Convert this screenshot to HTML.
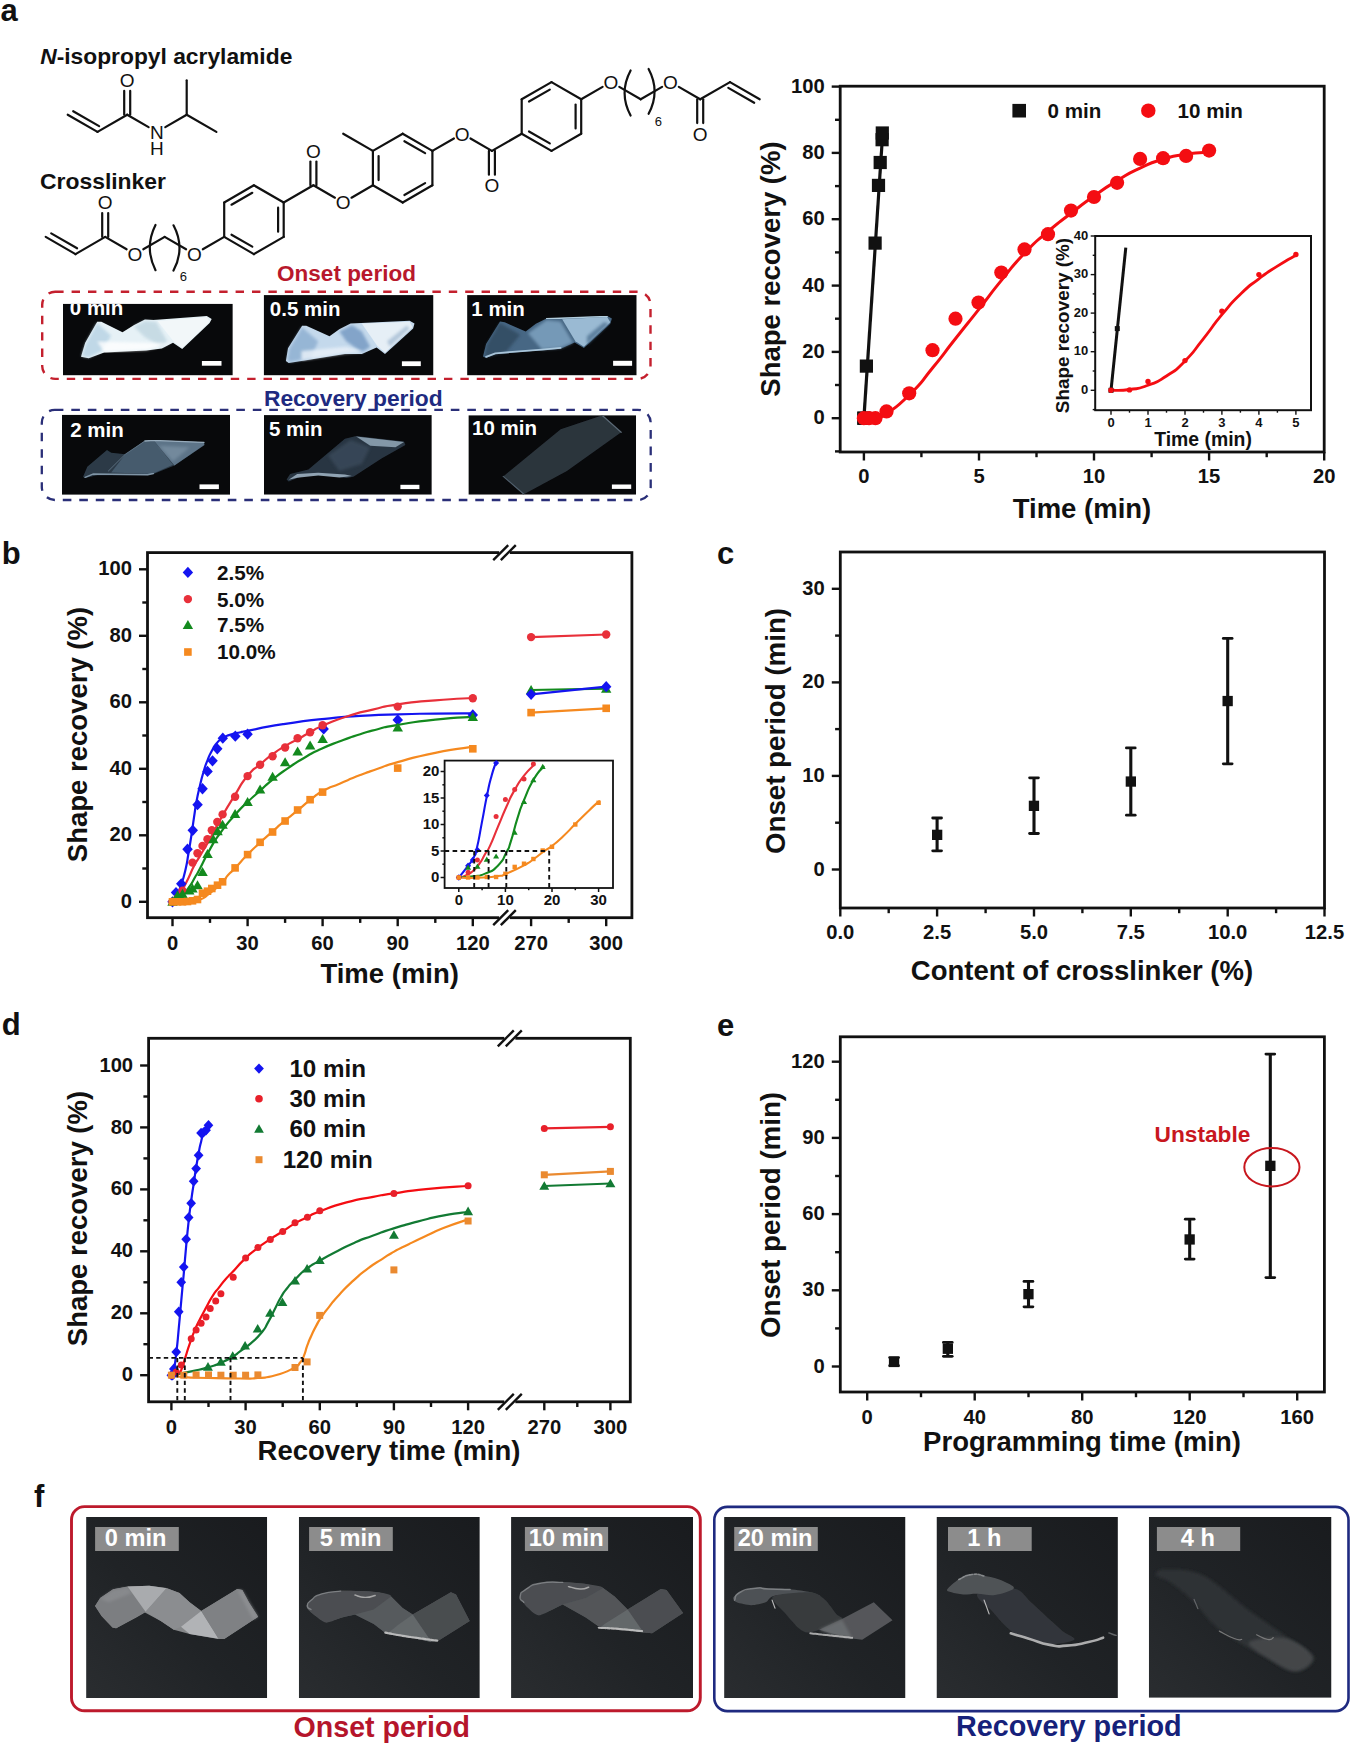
<!DOCTYPE html>
<html lang="en"><head><meta charset="utf-8"><title>Figure</title>
<style>
html,body{margin:0;padding:0;background:#fff;}
body{width:1352px;height:1745px;overflow:hidden;}
svg{display:block;font-family:'Liberation Sans', sans-serif;}
</style></head><body>
<svg width="1352" height="1745" viewBox="0 0 1352 1745">
<rect width="1352" height="1745" fill="#fff"/>
<text x="0.5" y="20.8" font-size="31" text-anchor="start" fill="#111" font-weight="bold">a</text>
<text x="1.7" y="564.3" font-size="31" text-anchor="start" fill="#111" font-weight="bold">b</text>
<text x="717" y="564.3" font-size="31" text-anchor="start" fill="#111" font-weight="bold">c</text>
<text x="1.7" y="1035" font-size="31" text-anchor="start" fill="#111" font-weight="bold">d</text>
<text x="717" y="1035.6" font-size="31" text-anchor="start" fill="#111" font-weight="bold">e</text>
<text x="34" y="1506.6" font-size="31" text-anchor="start" fill="#111" font-weight="bold">f</text>
<rect x="840.2" y="86.2" width="484" height="365.8" fill="none" stroke="#111" stroke-width="2.8"/>
<line x1="831.7" y1="418.2" x2="840.2" y2="418.2" stroke="#111" stroke-width="2.4"/>
<text x="824.7" y="424.2" font-size="20.2" text-anchor="end" fill="#111" font-weight="bold">0</text>
<line x1="831.7" y1="351.9" x2="840.2" y2="351.9" stroke="#111" stroke-width="2.4"/>
<text x="824.7" y="357.9" font-size="20.2" text-anchor="end" fill="#111" font-weight="bold">20</text>
<line x1="831.7" y1="285.6" x2="840.2" y2="285.6" stroke="#111" stroke-width="2.4"/>
<text x="824.7" y="291.6" font-size="20.2" text-anchor="end" fill="#111" font-weight="bold">40</text>
<line x1="831.7" y1="219.2" x2="840.2" y2="219.2" stroke="#111" stroke-width="2.4"/>
<text x="824.7" y="225.3" font-size="20.2" text-anchor="end" fill="#111" font-weight="bold">60</text>
<line x1="831.7" y1="152.9" x2="840.2" y2="152.9" stroke="#111" stroke-width="2.4"/>
<text x="824.7" y="159" font-size="20.2" text-anchor="end" fill="#111" font-weight="bold">80</text>
<line x1="831.7" y1="86.6" x2="840.2" y2="86.6" stroke="#111" stroke-width="2.4"/>
<text x="824.7" y="92.6" font-size="20.2" text-anchor="end" fill="#111" font-weight="bold">100</text>
<line x1="835" y1="451.4" x2="840.2" y2="451.4" stroke="#111" stroke-width="2.4"/>
<line x1="835" y1="385" x2="840.2" y2="385" stroke="#111" stroke-width="2.4"/>
<line x1="835" y1="318.7" x2="840.2" y2="318.7" stroke="#111" stroke-width="2.4"/>
<line x1="835" y1="252.4" x2="840.2" y2="252.4" stroke="#111" stroke-width="2.4"/>
<line x1="835" y1="186.1" x2="840.2" y2="186.1" stroke="#111" stroke-width="2.4"/>
<line x1="835" y1="119.8" x2="840.2" y2="119.8" stroke="#111" stroke-width="2.4"/>
<line x1="863.9" y1="452" x2="863.9" y2="460.5" stroke="#111" stroke-width="2.4"/>
<text x="863.9" y="483" font-size="20.2" text-anchor="middle" fill="#111" font-weight="bold">0</text>
<line x1="979" y1="452" x2="979" y2="460.5" stroke="#111" stroke-width="2.4"/>
<text x="979" y="483" font-size="20.2" text-anchor="middle" fill="#111" font-weight="bold">5</text>
<line x1="1094" y1="452" x2="1094" y2="460.5" stroke="#111" stroke-width="2.4"/>
<text x="1094" y="483" font-size="20.2" text-anchor="middle" fill="#111" font-weight="bold">10</text>
<line x1="1209.1" y1="452" x2="1209.1" y2="460.5" stroke="#111" stroke-width="2.4"/>
<text x="1209.1" y="483" font-size="20.2" text-anchor="middle" fill="#111" font-weight="bold">15</text>
<line x1="1324.2" y1="452" x2="1324.2" y2="460.5" stroke="#111" stroke-width="2.4"/>
<text x="1324.2" y="483" font-size="20.2" text-anchor="middle" fill="#111" font-weight="bold">20</text>
<line x1="921.4" y1="452" x2="921.4" y2="457.2" stroke="#111" stroke-width="2.4"/>
<line x1="1036.5" y1="452" x2="1036.5" y2="457.2" stroke="#111" stroke-width="2.4"/>
<line x1="1151.6" y1="452" x2="1151.6" y2="457.2" stroke="#111" stroke-width="2.4"/>
<line x1="1266.7" y1="452" x2="1266.7" y2="457.2" stroke="#111" stroke-width="2.4"/>
<text x="780" y="269" font-size="27.5" text-anchor="middle" fill="#111" font-weight="bold" transform="rotate(-90 780 269)">Shape recovery (%)</text>
<text x="1082" y="518" font-size="27.5" text-anchor="middle" fill="#111" font-weight="bold">Time (min)</text>
<line x1="863.9" y1="418.2" x2="882.7" y2="133" stroke="#111" stroke-width="3.2"/>
<rect x="857.3" y="411.6" width="13.2" height="13.2" fill="#111"/>
<rect x="859.8" y="359.5" width="13.2" height="13.2" fill="#111"/>
<rect x="868.5" y="236.5" width="13.2" height="13.2" fill="#111"/>
<rect x="871.9" y="178.8" width="13.2" height="13.2" fill="#111"/>
<rect x="873.6" y="155.9" width="13.2" height="13.2" fill="#111"/>
<rect x="875.5" y="133.1" width="13.2" height="13.2" fill="#111"/>
<rect x="875.7" y="126.4" width="13.2" height="13.2" fill="#111"/>
<path d="M863.9 418.2C867.7 418.1 867.7 419.7 875.4 418C883.1 416.4 875.4 421.1 886.9 413.2C898.4 405.3 894.6 409.6 909.9 394.3C925.3 379.1 917.6 386.3 932.9 367.5C948.3 348.7 940.6 357.4 956 338C971.3 318.5 963.6 328.6 979 309.1C994.3 289.6 986.6 298.4 1002 279.6C1017.3 260.8 1009.7 268.8 1025 252.7C1040.3 236.7 1032.7 244.7 1048 231.5C1063.4 218.4 1055.7 225.1 1071 213.3C1086.4 201.4 1078.7 206.9 1094 196C1109.4 185.2 1101.7 190.1 1117.1 180.8C1132.4 171.5 1124.7 175.4 1140.1 168.2C1155.4 161 1147.8 163.9 1163.1 159.2C1178.4 154.6 1170.8 156.6 1186.1 154.2C1201.5 151.9 1201.5 152.9 1209.1 152.3" fill="none" stroke="#f40d12" stroke-width="3" stroke-linecap="round" stroke-linejoin="round"/>
<rect x="857.3" y="411.6" width="13.2" height="13.2" fill="#111"/>
<circle cx="863.9" cy="418.2" r="7.1" fill="#f40d12"/>
<circle cx="875.4" cy="418.2" r="7.1" fill="#f40d12"/>
<circle cx="886.5" cy="411.4" r="7.1" fill="#f40d12"/>
<circle cx="909.2" cy="393.3" r="7.1" fill="#f40d12"/>
<circle cx="932.5" cy="350.2" r="7.1" fill="#f40d12"/>
<circle cx="955.5" cy="318.7" r="7.1" fill="#f40d12"/>
<circle cx="978.5" cy="302.5" r="7.1" fill="#f40d12"/>
<circle cx="1001.3" cy="272.6" r="7.1" fill="#f40d12"/>
<circle cx="1024.5" cy="249.4" r="7.1" fill="#f40d12"/>
<circle cx="1048" cy="234.2" r="7.1" fill="#f40d12"/>
<circle cx="1071" cy="210.6" r="7.1" fill="#f40d12"/>
<circle cx="1094" cy="197" r="7.1" fill="#f40d12"/>
<circle cx="1117.1" cy="182.8" r="7.1" fill="#f40d12"/>
<circle cx="1140.1" cy="158.9" r="7.1" fill="#f40d12"/>
<circle cx="1163.1" cy="158.2" r="7.1" fill="#f40d12"/>
<circle cx="1186.1" cy="155.9" r="7.1" fill="#f40d12"/>
<circle cx="1209.1" cy="150.6" r="7.1" fill="#f40d12"/>
<circle cx="869" cy="418.2" r="7.1" fill="#f40d12"/>
<rect x="1012.4" y="103.9" width="13.6" height="13.6" fill="#111"/>
<text x="1047.5" y="117.6" font-size="20.6" text-anchor="start" fill="#111" font-weight="bold">0 min</text>
<circle cx="1148.3" cy="110.7" r="7.2" fill="#f40d12"/>
<text x="1177.6" y="117.6" font-size="20.6" text-anchor="start" fill="#111" font-weight="bold">10 min</text>
<rect x="1095.2" y="236" width="215.8" height="174.2" fill="#fff" stroke="#111" stroke-width="2"/>
<line x1="1090.7" y1="390.3" x2="1095.2" y2="390.3" stroke="#111" stroke-width="1.4"/>
<text x="1088.2" y="393.8" font-size="13" text-anchor="end" fill="#111" font-weight="bold">0</text>
<line x1="1090.7" y1="351.7" x2="1095.2" y2="351.7" stroke="#111" stroke-width="1.4"/>
<text x="1088.2" y="355.2" font-size="13" text-anchor="end" fill="#111" font-weight="bold">10</text>
<line x1="1090.7" y1="313.1" x2="1095.2" y2="313.1" stroke="#111" stroke-width="1.4"/>
<text x="1088.2" y="316.6" font-size="13" text-anchor="end" fill="#111" font-weight="bold">20</text>
<line x1="1090.7" y1="274.6" x2="1095.2" y2="274.6" stroke="#111" stroke-width="1.4"/>
<text x="1088.2" y="278" font-size="13" text-anchor="end" fill="#111" font-weight="bold">30</text>
<line x1="1090.7" y1="236" x2="1095.2" y2="236" stroke="#111" stroke-width="1.4"/>
<text x="1088.2" y="239.5" font-size="13" text-anchor="end" fill="#111" font-weight="bold">40</text>
<line x1="1092.7" y1="409.6" x2="1095.2" y2="409.6" stroke="#111" stroke-width="1.4"/>
<line x1="1092.7" y1="371" x2="1095.2" y2="371" stroke="#111" stroke-width="1.4"/>
<line x1="1092.7" y1="332.4" x2="1095.2" y2="332.4" stroke="#111" stroke-width="1.4"/>
<line x1="1092.7" y1="293.9" x2="1095.2" y2="293.9" stroke="#111" stroke-width="1.4"/>
<line x1="1092.7" y1="255.3" x2="1095.2" y2="255.3" stroke="#111" stroke-width="1.4"/>
<line x1="1111" y1="410.2" x2="1111" y2="414.7" stroke="#111" stroke-width="1.4"/>
<text x="1111" y="426.8" font-size="13" text-anchor="middle" fill="#111" font-weight="bold">0</text>
<line x1="1148" y1="410.2" x2="1148" y2="414.7" stroke="#111" stroke-width="1.4"/>
<text x="1148" y="426.8" font-size="13" text-anchor="middle" fill="#111" font-weight="bold">1</text>
<line x1="1185" y1="410.2" x2="1185" y2="414.7" stroke="#111" stroke-width="1.4"/>
<text x="1185" y="426.8" font-size="13" text-anchor="middle" fill="#111" font-weight="bold">2</text>
<line x1="1221.9" y1="410.2" x2="1221.9" y2="414.7" stroke="#111" stroke-width="1.4"/>
<text x="1221.9" y="426.8" font-size="13" text-anchor="middle" fill="#111" font-weight="bold">3</text>
<line x1="1258.9" y1="410.2" x2="1258.9" y2="414.7" stroke="#111" stroke-width="1.4"/>
<text x="1258.9" y="426.8" font-size="13" text-anchor="middle" fill="#111" font-weight="bold">4</text>
<line x1="1295.9" y1="410.2" x2="1295.9" y2="414.7" stroke="#111" stroke-width="1.4"/>
<text x="1295.9" y="426.8" font-size="13" text-anchor="middle" fill="#111" font-weight="bold">5</text>
<line x1="1129.5" y1="410.2" x2="1129.5" y2="412.7" stroke="#111" stroke-width="1.4"/>
<line x1="1166.5" y1="410.2" x2="1166.5" y2="412.7" stroke="#111" stroke-width="1.4"/>
<line x1="1203.5" y1="410.2" x2="1203.5" y2="412.7" stroke="#111" stroke-width="1.4"/>
<line x1="1240.4" y1="410.2" x2="1240.4" y2="412.7" stroke="#111" stroke-width="1.4"/>
<line x1="1277.4" y1="410.2" x2="1277.4" y2="412.7" stroke="#111" stroke-width="1.4"/>
<text x="1068.6" y="325.5" font-size="18.9" text-anchor="middle" fill="#111" font-weight="bold" transform="rotate(-90 1068.6 325.5)">Shape recovery (%)</text>
<text x="1203" y="446" font-size="19.4" text-anchor="middle" fill="#111" font-weight="bold">Time (min)</text>
<line x1="1111" y1="390.3" x2="1125.8" y2="247.6" stroke="#111" stroke-width="3"/>
<path d="M1111 390.3C1117.2 390 1117.2 391.2 1129.5 389.5C1141.8 387.9 1135.7 389.8 1148 385.3C1160.3 380.8 1154.1 384.1 1166.5 376C1178.8 367.9 1172.6 373.5 1185 361C1197.3 348.5 1191.1 354 1203.5 338.6C1215.8 323.2 1209.6 329.5 1221.9 314.7C1234.3 299.9 1228.1 306.2 1240.4 294.2C1252.8 282.3 1246.6 288.2 1258.9 278.8C1271.2 269.4 1265.1 273.9 1277.4 266.1C1289.7 258.2 1289.7 258.9 1295.9 255.3" fill="none" stroke="#f40d12" stroke-width="2.8" stroke-linecap="round" stroke-linejoin="round"/>
<rect x="1114.8" y="326.1" width="5" height="5" fill="#111"/>
<rect x="1108.5" y="387.8" width="5" height="5" fill="#111"/>
<circle cx="1111" cy="390.3" r="2.7" fill="#f40d12"/>
<circle cx="1129.5" cy="389.9" r="2.7" fill="#f40d12"/>
<circle cx="1148" cy="381.4" r="2.7" fill="#f40d12"/>
<circle cx="1185" cy="360.6" r="2.7" fill="#f40d12"/>
<circle cx="1221.9" cy="311.2" r="2.7" fill="#f40d12"/>
<circle cx="1258.9" cy="274.6" r="2.7" fill="#f40d12"/>
<circle cx="1295.9" cy="254.5" r="2.7" fill="#f40d12"/>
<rect x="147.5" y="552.6" width="484.4" height="365.1" fill="none" stroke="#111" stroke-width="2.8"/>
<rect x="499.2" y="549.6" width="10.6" height="6" fill="#fff" stroke="none" stroke-width="0"/>
<line x1="493.2" y1="560.1" x2="508.2" y2="545.1" stroke="#111" stroke-width="2.4"/>
<line x1="500.8" y1="560.1" x2="515.8" y2="545.1" stroke="#111" stroke-width="2.4"/>
<rect x="499.2" y="914.7" width="10.6" height="6" fill="#fff" stroke="none" stroke-width="0"/>
<line x1="493.2" y1="925.2" x2="508.2" y2="910.2" stroke="#111" stroke-width="2.4"/>
<line x1="500.8" y1="925.2" x2="515.8" y2="910.2" stroke="#111" stroke-width="2.4"/>
<line x1="139" y1="901.8" x2="147.5" y2="901.8" stroke="#111" stroke-width="2.4"/>
<text x="132" y="907.8" font-size="20.2" text-anchor="end" fill="#111" font-weight="bold">0</text>
<line x1="139" y1="835.3" x2="147.5" y2="835.3" stroke="#111" stroke-width="2.4"/>
<text x="132" y="841.3" font-size="20.2" text-anchor="end" fill="#111" font-weight="bold">20</text>
<line x1="139" y1="768.8" x2="147.5" y2="768.8" stroke="#111" stroke-width="2.4"/>
<text x="132" y="774.8" font-size="20.2" text-anchor="end" fill="#111" font-weight="bold">40</text>
<line x1="139" y1="702.3" x2="147.5" y2="702.3" stroke="#111" stroke-width="2.4"/>
<text x="132" y="708.3" font-size="20.2" text-anchor="end" fill="#111" font-weight="bold">60</text>
<line x1="139" y1="635.8" x2="147.5" y2="635.8" stroke="#111" stroke-width="2.4"/>
<text x="132" y="641.8" font-size="20.2" text-anchor="end" fill="#111" font-weight="bold">80</text>
<line x1="139" y1="569.3" x2="147.5" y2="569.3" stroke="#111" stroke-width="2.4"/>
<text x="132" y="575.3" font-size="20.2" text-anchor="end" fill="#111" font-weight="bold">100</text>
<line x1="142.3" y1="868.5" x2="147.5" y2="868.5" stroke="#111" stroke-width="2.4"/>
<line x1="142.3" y1="802" x2="147.5" y2="802" stroke="#111" stroke-width="2.4"/>
<line x1="142.3" y1="735.5" x2="147.5" y2="735.5" stroke="#111" stroke-width="2.4"/>
<line x1="142.3" y1="669" x2="147.5" y2="669" stroke="#111" stroke-width="2.4"/>
<line x1="142.3" y1="602.5" x2="147.5" y2="602.5" stroke="#111" stroke-width="2.4"/>
<line x1="172.5" y1="917.7" x2="172.5" y2="926.2" stroke="#111" stroke-width="2.4"/>
<text x="172.5" y="950.3" font-size="20.2" text-anchor="middle" fill="#111" font-weight="bold">0</text>
<line x1="247.6" y1="917.7" x2="247.6" y2="926.2" stroke="#111" stroke-width="2.4"/>
<text x="247.6" y="950.3" font-size="20.2" text-anchor="middle" fill="#111" font-weight="bold">30</text>
<line x1="322.6" y1="917.7" x2="322.6" y2="926.2" stroke="#111" stroke-width="2.4"/>
<text x="322.6" y="950.3" font-size="20.2" text-anchor="middle" fill="#111" font-weight="bold">60</text>
<line x1="397.7" y1="917.7" x2="397.7" y2="926.2" stroke="#111" stroke-width="2.4"/>
<text x="397.7" y="950.3" font-size="20.2" text-anchor="middle" fill="#111" font-weight="bold">90</text>
<line x1="472.8" y1="917.7" x2="472.8" y2="926.2" stroke="#111" stroke-width="2.4"/>
<text x="472.8" y="950.3" font-size="20.2" text-anchor="middle" fill="#111" font-weight="bold">120</text>
<line x1="210" y1="917.7" x2="210" y2="922.9" stroke="#111" stroke-width="2.4"/>
<line x1="285.1" y1="917.7" x2="285.1" y2="922.9" stroke="#111" stroke-width="2.4"/>
<line x1="360.2" y1="917.7" x2="360.2" y2="922.9" stroke="#111" stroke-width="2.4"/>
<line x1="435.3" y1="917.7" x2="435.3" y2="922.9" stroke="#111" stroke-width="2.4"/>
<line x1="531.1" y1="917.7" x2="531.1" y2="926.2" stroke="#111" stroke-width="2.4"/>
<text x="531.1" y="950.3" font-size="20.2" text-anchor="middle" fill="#111" font-weight="bold">270</text>
<line x1="606.2" y1="917.7" x2="606.2" y2="926.2" stroke="#111" stroke-width="2.4"/>
<text x="606.2" y="950.3" font-size="20.2" text-anchor="middle" fill="#111" font-weight="bold">300</text>
<line x1="568.7" y1="917.7" x2="568.7" y2="922.9" stroke="#111" stroke-width="2.4"/>
<text x="87" y="734.5" font-size="27.5" text-anchor="middle" fill="#111" font-weight="bold" transform="rotate(-90 87 734.5)">Shape recovery (%)</text>
<text x="389.7" y="983.2" font-size="27.5" text-anchor="middle" fill="#111" font-weight="bold">Time (min)</text>
<path d="M172.5 901.8C173.8 900.1 173.6 901.9 176.3 896.8C179 891.7 177.6 895.3 180.6 886.5C183.6 877.7 182.6 881.6 185.3 870.5C187.9 859.5 186.5 864.8 188.5 853.3C190.5 841.7 189.4 847.9 191.3 836C193.1 824 192.3 828.9 194 817.3C195.8 805.8 194.5 812 196.5 801.4C198.5 790.7 197.8 795 200 785.4C202.3 775.9 200.9 781 203.3 772.8C205.7 764.6 204.4 768.1 207.3 760.8C210.2 753.5 208.8 756.6 211.9 750.8C215 745.1 213 747.7 216.5 743.5C220.1 739.3 218.1 741.1 222.6 738.2C227 735.3 223.8 736.9 229.8 734.9C235.8 732.9 234.3 733.7 240.6 732.2C246.8 730.8 234.4 733.2 248.6 730.6C262.8 727.9 256 728.3 283.1 724.2C310.2 720.1 304.2 721 329.9 718.3C355.6 715.5 337.6 717.3 360.2 715.9C382.8 714.6 372.7 715 397.7 714.3C422.8 713.5 410.2 713.9 435.3 713.6C460.3 713.3 460.3 713.4 472.8 713.3" fill="none" stroke="#1414f0" stroke-width="2.2" stroke-linecap="round" stroke-linejoin="round"/>
<path d="M172.5 901.8C173.8 901 173.6 902.4 176.3 899.5C178.9 896.6 176.4 900.4 180.5 893.2C184.6 886 184 886.9 188.5 877.9C193 868.8 190.2 873.2 194 865.9C197.9 858.6 194.6 865.1 200 855.9C205.4 846.7 203.4 850.7 210.3 838.3C217.2 825.9 212.9 832.6 220.8 818.7C228.7 804.7 225.1 810.7 234.1 796.4C243 782.1 238.9 786.4 247.6 775.8C256.3 765.1 251.8 771.6 260.1 764.5C268.3 757.4 264.1 760.6 272.3 754.5C280.6 748.4 276.2 751.4 284.9 746.2C293.5 741 290 743.5 298.4 738.9C306.8 734.2 301.9 736.7 310.1 732.2C318.4 727.8 310.6 730.9 323.2 725.6C335.7 720.3 331.2 721.6 347.7 716.3C364.2 710.9 356 713.6 372.7 709.6C389.4 705.6 376.9 707.4 397.7 704.3C418.6 701.2 410.2 702.4 435.3 700.3C460.3 698.2 460.3 698.8 472.8 698" fill="none" stroke="#e8303a" stroke-width="2.2" stroke-linecap="round" stroke-linejoin="round"/>
<path d="M172.5 901.8C174.2 901.1 173.9 902.2 177.5 899.8C181.1 897.4 179.1 899.1 183.3 894.5C187.4 889.8 186.1 891.6 190 885.8C193.9 880.1 191.7 883 195 877.2C198.4 871.4 194.9 878.1 200 868.5C205.1 859 203.4 860.7 210.3 848.6C217.2 836.5 212.5 843.6 220.8 832.3C229.1 821 226.3 824.8 235.2 814.7C244.1 804.6 239.3 810 247.6 802C255.9 794.1 251.8 798.2 260.1 790.7C268.3 783.3 263 787.3 272.3 779.8C281.7 772.2 277.7 775.3 288.1 768.1C298.5 760.9 293.3 764.3 303.6 758.2C314 752.1 307.1 755.5 319.1 749.8C331.2 744.2 326.2 746.4 339.9 741.2C353.6 736 347.6 738.2 360.2 734.2C372.8 730.2 365.2 732.3 377.7 729.2C390.2 726.1 378.5 728.1 397.7 724.9C416.9 721.7 410.2 722.2 435.3 719.6C460.3 716.9 460.3 717.8 472.8 716.9" fill="none" stroke="#138a1e" stroke-width="2.2" stroke-linecap="round" stroke-linejoin="round"/>
<path d="M172.5 901.8C176.7 901.8 176.7 902.2 185 901.8C193.4 901.4 189.2 903.4 197.5 900.5C205.9 897.6 201.7 899.4 210 893.2C218.4 886.9 216.5 887.9 222.6 881.8C228.6 875.8 223.8 879.7 228.1 875C232.3 870.4 228.7 874.7 235.2 867.9C241.7 861.1 239.3 863 247.6 854.6C255.9 846.2 251.8 850.3 260.1 842.6C268.3 835 264.1 839 272.3 831.6C280.6 824.3 276.4 827.8 284.9 820.7C293.3 813.6 288.9 817.5 297.6 810.4C306.3 803.3 302.3 805.9 310.9 799.4C319.5 792.9 313.6 796.1 323.4 790.7C333.2 785.4 327.9 788.6 340.2 783.4C352.4 778.2 347.7 780 360.2 775.1C372.7 770.2 365.2 773.1 377.7 768.8C390.2 764.5 378.5 767.5 397.7 762.1C416.9 756.8 410.2 757.9 435.3 752.8C460.3 747.7 460.3 748.8 472.8 746.9" fill="none" stroke="#f5891f" stroke-width="2.2" stroke-linecap="round" stroke-linejoin="round"/>
<path d="M172.5 896.2L177.7 901.8L172.5 907.4L167.3 901.8Z" fill="#1414f0"/>
<path d="M176 886.9L181.2 892.5L176 898.1L170.8 892.5Z" fill="#1414f0"/>
<path d="M181.3 878.2L186.5 883.8L181.3 889.5L176 883.8Z" fill="#1414f0"/>
<path d="M187.5 843.6L192.8 849.3L187.5 854.9L182.3 849.3Z" fill="#1414f0"/>
<path d="M192.8 824.7L198 830.3L192.8 835.9L187.5 830.3Z" fill="#1414f0"/>
<path d="M197.5 799.1L202.8 804.7L197.5 810.3L192.3 804.7Z" fill="#1414f0"/>
<path d="M202.5 783.1L207.8 788.8L202.5 794.4L197.3 788.8Z" fill="#1414f0"/>
<path d="M207.5 765.8L212.8 771.5L207.5 777.1L202.3 771.5Z" fill="#1414f0"/>
<path d="M212.5 755.2L217.8 760.8L212.5 766.4L207.3 760.8Z" fill="#1414f0"/>
<path d="M217.3 743.2L222.5 748.8L217.3 754.5L212.1 748.8Z" fill="#1414f0"/>
<path d="M222.8 732.6L228 738.2L222.8 743.8L217.6 738.2Z" fill="#1414f0"/>
<path d="M235.3 730.6L240.6 736.2L235.3 741.8L230.1 736.2Z" fill="#1414f0"/>
<path d="M247.6 728.6L252.8 734.2L247.6 739.8L242.3 734.2Z" fill="#1414f0"/>
<path d="M323.7 723.3L328.9 728.9L323.7 734.5L318.4 728.9Z" fill="#1414f0"/>
<path d="M397.7 714.3L403 719.9L397.7 725.5L392.5 719.9Z" fill="#1414f0"/>
<path d="M472.8 709.3L478 714.9L472.8 720.6L467.6 714.9Z" fill="#1414f0"/>
<circle cx="172.5" cy="901.8" r="4.2" fill="#e8303a"/>
<circle cx="177.5" cy="898.5" r="4.2" fill="#e8303a"/>
<circle cx="182.5" cy="890.8" r="4.2" fill="#e8303a"/>
<circle cx="192.5" cy="862.6" r="4.2" fill="#e8303a"/>
<circle cx="197.5" cy="853.3" r="4.2" fill="#e8303a"/>
<circle cx="202.5" cy="845.9" r="4.2" fill="#e8303a"/>
<circle cx="207.5" cy="839.3" r="4.2" fill="#e8303a"/>
<circle cx="211.8" cy="830.3" r="4.2" fill="#e8303a"/>
<circle cx="217.3" cy="822" r="4.2" fill="#e8303a"/>
<circle cx="222.6" cy="814.4" r="4.2" fill="#e8303a"/>
<circle cx="235.1" cy="796.7" r="4.2" fill="#e8303a"/>
<circle cx="247.6" cy="776.1" r="4.2" fill="#e8303a"/>
<circle cx="260.1" cy="764.8" r="4.2" fill="#e8303a"/>
<circle cx="272.6" cy="756.2" r="4.2" fill="#e8303a"/>
<circle cx="285.1" cy="747.5" r="4.2" fill="#e8303a"/>
<circle cx="297.6" cy="738.2" r="4.2" fill="#e8303a"/>
<circle cx="310.1" cy="732.2" r="4.2" fill="#e8303a"/>
<circle cx="322.6" cy="725.2" r="4.2" fill="#e8303a"/>
<circle cx="397.7" cy="706.6" r="4.2" fill="#e8303a"/>
<circle cx="472.8" cy="698.3" r="4.2" fill="#e8303a"/>
<path d="M172.5 896.8L177.7 905.8L167.3 905.8Z" fill="#138a1e"/>
<path d="M177.5 890.5L182.7 899.5L172.3 899.5Z" fill="#138a1e"/>
<path d="M182.5 888.8L187.7 897.9L177.3 897.9Z" fill="#138a1e"/>
<path d="M189.3 885.5L194.5 894.5L184 894.5Z" fill="#138a1e"/>
<path d="M192.5 883.5L197.7 892.5L187.3 892.5Z" fill="#138a1e"/>
<path d="M197.5 880.2L202.8 889.2L192.3 889.2Z" fill="#138a1e"/>
<path d="M202.5 866.9L207.8 875.9L197.3 875.9Z" fill="#138a1e"/>
<path d="M207.5 848.9L212.8 858L202.3 858Z" fill="#138a1e"/>
<path d="M213.3 834.3L218.5 843.3L208.1 843.3Z" fill="#138a1e"/>
<path d="M217.5 826.3L222.8 835.3L212.3 835.3Z" fill="#138a1e"/>
<path d="M222.6 819.7L227.8 828.7L217.3 828.7Z" fill="#138a1e"/>
<path d="M235.1 809L240.3 818.1L229.8 818.1Z" fill="#138a1e"/>
<path d="M247.6 797.1L252.8 806.1L242.3 806.1Z" fill="#138a1e"/>
<path d="M260.1 784.4L265.3 793.5L254.9 793.5Z" fill="#138a1e"/>
<path d="M272.6 771.8L277.8 780.8L267.4 780.8Z" fill="#138a1e"/>
<path d="M285.1 757.2L290.3 766.2L279.9 766.2Z" fill="#138a1e"/>
<path d="M297.6 746.5L302.9 755.5L292.4 755.5Z" fill="#138a1e"/>
<path d="M310.1 740.5L315.4 749.6L304.9 749.6Z" fill="#138a1e"/>
<path d="M322.6 733.9L327.9 742.9L317.4 742.9Z" fill="#138a1e"/>
<path d="M397.7 722.6L403 731.6L392.5 731.6Z" fill="#138a1e"/>
<path d="M472.8 711.9L478 721L467.6 721Z" fill="#138a1e"/>
<rect x="168.7" y="898" width="7.6" height="7.6" fill="#f5891f"/>
<rect x="173.7" y="898" width="7.6" height="7.6" fill="#f5891f"/>
<rect x="178.7" y="898" width="7.6" height="7.6" fill="#f5891f"/>
<rect x="183.7" y="897.7" width="7.6" height="7.6" fill="#f5891f"/>
<rect x="188.7" y="897" width="7.6" height="7.6" fill="#f5891f"/>
<rect x="193.7" y="895.7" width="7.6" height="7.6" fill="#f5891f"/>
<rect x="198.7" y="889.4" width="7.6" height="7.6" fill="#f5891f"/>
<rect x="203.7" y="887.4" width="7.6" height="7.6" fill="#f5891f"/>
<rect x="208" y="884.7" width="7.6" height="7.6" fill="#f5891f"/>
<rect x="213.7" y="881.4" width="7.6" height="7.6" fill="#f5891f"/>
<rect x="218.8" y="878" width="7.6" height="7.6" fill="#f5891f"/>
<rect x="231.3" y="864.1" width="7.6" height="7.6" fill="#f5891f"/>
<rect x="243.8" y="850.8" width="7.6" height="7.6" fill="#f5891f"/>
<rect x="256.3" y="838.5" width="7.6" height="7.6" fill="#f5891f"/>
<rect x="268.8" y="828.2" width="7.6" height="7.6" fill="#f5891f"/>
<rect x="281.3" y="817.2" width="7.6" height="7.6" fill="#f5891f"/>
<rect x="293.8" y="806.2" width="7.6" height="7.6" fill="#f5891f"/>
<rect x="306.3" y="795.9" width="7.6" height="7.6" fill="#f5891f"/>
<rect x="318.8" y="788.3" width="7.6" height="7.6" fill="#f5891f"/>
<rect x="393.9" y="764.3" width="7.6" height="7.6" fill="#f5891f"/>
<rect x="469" y="745" width="7.6" height="7.6" fill="#f5891f"/>
<line x1="531.1" y1="637.1" x2="606.2" y2="634.5" stroke="#e8303a" stroke-width="2.2"/>
<circle cx="531.1" cy="637.1" r="4.2" fill="#e8303a"/>
<circle cx="606.2" cy="634.5" r="4.2" fill="#e8303a"/>
<line x1="531.1" y1="690" x2="606.2" y2="688.7" stroke="#138a1e" stroke-width="2.2"/>
<path d="M531.1 685L536.3 694L525.9 694Z" fill="#138a1e"/>
<path d="M606.2 683.7L611.4 692.7L601 692.7Z" fill="#138a1e"/>
<line x1="531.1" y1="694.3" x2="606.2" y2="686.7" stroke="#1414f0" stroke-width="2.2"/>
<path d="M531.1 688.7L536.3 694.3L531.1 699.9L525.9 694.3Z" fill="#1414f0"/>
<path d="M606.2 681L611.4 686.7L606.2 692.3L601 686.7Z" fill="#1414f0"/>
<line x1="531.1" y1="712.6" x2="606.2" y2="708.3" stroke="#f5891f" stroke-width="2.2"/>
<rect x="527.3" y="708.8" width="7.6" height="7.6" fill="#f5891f"/>
<rect x="602.4" y="704.5" width="7.6" height="7.6" fill="#f5891f"/>
<path d="M187.9 566.8L193.1 572.4L187.9 578L182.7 572.4Z" fill="#1414f0"/>
<text x="217" y="579.8" font-size="20.7" text-anchor="start" fill="#111" font-weight="bold">2.5%</text>
<circle cx="187.9" cy="599.1" r="4.2" fill="#e8303a"/>
<text x="217" y="606.5" font-size="20.7" text-anchor="start" fill="#111" font-weight="bold">5.0%</text>
<path d="M187.9 619.9L193.1 628.9L182.7 628.9Z" fill="#138a1e"/>
<text x="217" y="632.3" font-size="20.7" text-anchor="start" fill="#111" font-weight="bold">7.5%</text>
<rect x="184.1" y="648.2" width="7.6" height="7.6" fill="#f5891f"/>
<text x="217" y="659.4" font-size="20.7" text-anchor="start" fill="#111" font-weight="bold">10.0%</text>
<rect x="444.6" y="760.6" width="168.4" height="127.4" fill="#fff" stroke="#111" stroke-width="1.8"/>
<line x1="440.6" y1="877.5" x2="444.6" y2="877.5" stroke="#111" stroke-width="1.5"/>
<text x="439.4" y="882.1" font-size="15" text-anchor="end" fill="#111" font-weight="bold">0</text>
<line x1="440.6" y1="851" x2="444.6" y2="851" stroke="#111" stroke-width="1.5"/>
<text x="439.4" y="855.6" font-size="15" text-anchor="end" fill="#111" font-weight="bold">5</text>
<line x1="440.6" y1="824.5" x2="444.6" y2="824.5" stroke="#111" stroke-width="1.5"/>
<text x="439.4" y="829.1" font-size="15" text-anchor="end" fill="#111" font-weight="bold">10</text>
<line x1="440.6" y1="798" x2="444.6" y2="798" stroke="#111" stroke-width="1.5"/>
<text x="439.4" y="802.6" font-size="15" text-anchor="end" fill="#111" font-weight="bold">15</text>
<line x1="440.6" y1="771.5" x2="444.6" y2="771.5" stroke="#111" stroke-width="1.5"/>
<text x="439.4" y="776.1" font-size="15" text-anchor="end" fill="#111" font-weight="bold">20</text>
<line x1="442.4" y1="864.2" x2="444.6" y2="864.2" stroke="#111" stroke-width="1.5"/>
<line x1="442.4" y1="837.8" x2="444.6" y2="837.8" stroke="#111" stroke-width="1.5"/>
<line x1="442.4" y1="811.2" x2="444.6" y2="811.2" stroke="#111" stroke-width="1.5"/>
<line x1="442.4" y1="784.8" x2="444.6" y2="784.8" stroke="#111" stroke-width="1.5"/>
<line x1="458.8" y1="888" x2="458.8" y2="892" stroke="#111" stroke-width="1.5"/>
<text x="458.8" y="904.5" font-size="15" text-anchor="middle" fill="#111" font-weight="bold">0</text>
<line x1="505.4" y1="888" x2="505.4" y2="892" stroke="#111" stroke-width="1.5"/>
<text x="505.4" y="904.5" font-size="15" text-anchor="middle" fill="#111" font-weight="bold">10</text>
<line x1="552" y1="888" x2="552" y2="892" stroke="#111" stroke-width="1.5"/>
<text x="552" y="904.5" font-size="15" text-anchor="middle" fill="#111" font-weight="bold">20</text>
<line x1="598.6" y1="888" x2="598.6" y2="892" stroke="#111" stroke-width="1.5"/>
<text x="598.6" y="904.5" font-size="15" text-anchor="middle" fill="#111" font-weight="bold">30</text>
<line x1="482.1" y1="888" x2="482.1" y2="890.2" stroke="#111" stroke-width="1.5"/>
<line x1="528.7" y1="888" x2="528.7" y2="890.2" stroke="#111" stroke-width="1.5"/>
<line x1="575.3" y1="888" x2="575.3" y2="890.2" stroke="#111" stroke-width="1.5"/>
<clipPath id="cj"><rect x="444.6" y="760.6" width="168.4" height="127.4"/></clipPath><g clip-path="url(#cj)">
<path d="M458.8 877.5C461.6 874 462.2 873.6 467.2 866.9C472.2 860.2 470.4 863.8 473.7 857.4C477 850.9 474.3 859 477 847.6C479.7 836.1 478.6 839.8 481.8 822.9C485.1 806 483.5 812.7 486.7 796.9C490 781.2 488.3 787.7 491.6 775.7C494.9 763.8 494.9 766 496.5 761.2" fill="none" stroke="#1414f0" stroke-width="2.1" stroke-linecap="round" stroke-linejoin="round"/>
<path d="M458.8 877.5C461.1 876.8 460.8 877.8 465.8 875.4C470.8 873 469.1 874.4 473.7 870.3C478.4 866.2 476 868.6 479.8 863.2C483.6 857.8 481.7 859.8 485.1 854C488.5 848.3 485.6 855.1 490 845.9C494.3 836.7 492.7 839.3 498.1 826.4C503.6 813.4 501 818.9 506.3 807C511.7 795.1 508.4 801 514.3 790.6C520.2 780.2 517.5 784.2 524 775.7C530.6 767.3 530.6 768.7 533.8 765.1" fill="none" stroke="#e8303a" stroke-width="2.1" stroke-linecap="round" stroke-linejoin="round"/>
<path d="M458.8 877.5C463.5 877.1 464 877.5 472.8 876.2C481.5 874.9 476.6 877.2 485.1 873.6C493.5 870 491 872.5 498.1 865.4C505.2 858.4 502 860.6 506.3 852.4C510.6 844.3 507.3 852.4 511 840.9C514.7 829.5 513.2 831.7 517.5 818.1C521.9 804.5 518.6 813.1 524 800.1C529.5 787.1 527.3 790.3 533.8 779.2C540.4 768.1 540.4 770.9 543.6 766.7" fill="none" stroke="#138a1e" stroke-width="2.1" stroke-linecap="round" stroke-linejoin="round"/>
<path d="M458.8 877.5C465 877.6 464.3 878.3 477.4 877.8C490.6 877.3 488.5 877.4 498.1 876C507.8 874.6 497.7 877.1 506.3 873.6C515 870 514.9 870.3 524 865.4C533.2 860.5 527.3 863.6 533.8 859C540.4 854.3 537.6 855.9 543.6 851.5C549.7 847.2 545.5 851 552 845.9C558.5 840.8 555.1 843.8 563.2 836.2C571.3 828.6 567.5 831.8 576.2 823.1C584.9 814.5 581.7 817.5 589.3 810.2C596.9 802.9 595.8 804.2 599.1 801.2" fill="none" stroke="#f5891f" stroke-width="2.1" stroke-linecap="round" stroke-linejoin="round"/>
<path d="M458.8 874.3L461.8 877.5L458.8 880.7L455.8 877.5Z" fill="#1414f0"/>
<path d="M468.1 862.6L471.1 865.8L468.1 869L465.1 865.8Z" fill="#1414f0"/>
<path d="M472.8 856.8L475.8 860L472.8 863.2L469.8 860Z" fill="#1414f0"/>
<path d="M477.4 846.8L480.4 849.9L477.4 853.1L474.5 849.9Z" fill="#1414f0"/>
<path d="M486.8 792.2L489.7 795.4L486.8 798.5L483.8 795.4Z" fill="#1414f0"/>
<path d="M496.1 759.8L499.1 763L496.1 766.2L493.1 763Z" fill="#1414f0"/>
<circle cx="458.8" cy="877.5" r="2.5" fill="#e8303a"/>
<circle cx="468.1" cy="872.2" r="2.5" fill="#e8303a"/>
<circle cx="477.4" cy="860" r="2.5" fill="#e8303a"/>
<circle cx="496.1" cy="816.5" r="2.5" fill="#e8303a"/>
<circle cx="505.4" cy="799.6" r="2.5" fill="#e8303a"/>
<circle cx="514.7" cy="789.5" r="2.5" fill="#e8303a"/>
<circle cx="524" cy="778.9" r="2.5" fill="#e8303a"/>
<circle cx="533.4" cy="764.1" r="2.5" fill="#e8303a"/>
<path d="M468.1 864.5L471.1 869.8L465.1 869.8Z" fill="#138a1e"/>
<path d="M477.4 863.5L480.5 868.7L474.4 868.7Z" fill="#138a1e"/>
<path d="M486.8 856.6L489.8 861.8L483.7 861.8Z" fill="#138a1e"/>
<path d="M496.1 853.4L499.1 858.6L493.1 858.6Z" fill="#138a1e"/>
<path d="M514.7 829.6L517.7 834.8L511.7 834.8Z" fill="#138a1e"/>
<path d="M524 798.8L527.1 804L521 804Z" fill="#138a1e"/>
<path d="M533.4 777.1L536.4 782.3L530.3 782.3Z" fill="#138a1e"/>
<path d="M542.7 763.8L545.7 769.1L539.7 769.1Z" fill="#138a1e"/>
<rect x="456.6" y="875.3" width="4.4" height="4.4" fill="#f5891f"/>
<rect x="465.9" y="875.3" width="4.4" height="4.4" fill="#f5891f"/>
<rect x="475.2" y="875.3" width="4.4" height="4.4" fill="#f5891f"/>
<rect x="484.6" y="874.8" width="4.4" height="4.4" fill="#f5891f"/>
<rect x="493.9" y="874.8" width="4.4" height="4.4" fill="#f5891f"/>
<rect x="503.2" y="871.6" width="4.4" height="4.4" fill="#f5891f"/>
<rect x="512.5" y="864.7" width="4.4" height="4.4" fill="#f5891f"/>
<rect x="521.8" y="861.5" width="4.4" height="4.4" fill="#f5891f"/>
<rect x="531.2" y="856.8" width="4.4" height="4.4" fill="#f5891f"/>
<rect x="540.5" y="848.3" width="4.4" height="4.4" fill="#f5891f"/>
<rect x="549.8" y="844.6" width="4.4" height="4.4" fill="#f5891f"/>
<rect x="573.1" y="822.3" width="4.4" height="4.4" fill="#f5891f"/>
<rect x="596.4" y="800.6" width="4.4" height="4.4" fill="#f5891f"/>
</g>
<line x1="444.6" y1="851" x2="549.2" y2="851" stroke="#111" stroke-width="1.9" stroke-dasharray="4.6 3.4"/>
<line x1="474.2" y1="851" x2="474.2" y2="888" stroke="#111" stroke-width="1.9" stroke-dasharray="4.6 3.4"/>
<line x1="488.6" y1="851" x2="488.6" y2="888" stroke="#111" stroke-width="1.9" stroke-dasharray="4.6 3.4"/>
<line x1="506.3" y1="851" x2="506.3" y2="888" stroke="#111" stroke-width="1.9" stroke-dasharray="4.6 3.4"/>
<line x1="549.2" y1="851" x2="549.2" y2="888" stroke="#111" stroke-width="1.9" stroke-dasharray="4.6 3.4"/>
<rect x="840.3" y="552" width="484.2" height="356" fill="none" stroke="#111" stroke-width="2.8"/>
<line x1="831.8" y1="869.5" x2="840.3" y2="869.5" stroke="#111" stroke-width="2.4"/>
<text x="824.8" y="875.5" font-size="20.2" text-anchor="end" fill="#111" font-weight="bold">0</text>
<line x1="831.8" y1="775.9" x2="840.3" y2="775.9" stroke="#111" stroke-width="2.4"/>
<text x="824.8" y="782" font-size="20.2" text-anchor="end" fill="#111" font-weight="bold">10</text>
<line x1="831.8" y1="682.4" x2="840.3" y2="682.4" stroke="#111" stroke-width="2.4"/>
<text x="824.8" y="688.4" font-size="20.2" text-anchor="end" fill="#111" font-weight="bold">20</text>
<line x1="831.8" y1="588.8" x2="840.3" y2="588.8" stroke="#111" stroke-width="2.4"/>
<text x="824.8" y="594.8" font-size="20.2" text-anchor="end" fill="#111" font-weight="bold">30</text>
<line x1="835.1" y1="822.7" x2="840.3" y2="822.7" stroke="#111" stroke-width="2.4"/>
<line x1="835.1" y1="729.1" x2="840.3" y2="729.1" stroke="#111" stroke-width="2.4"/>
<line x1="835.1" y1="635.6" x2="840.3" y2="635.6" stroke="#111" stroke-width="2.4"/>
<line x1="840.3" y1="908" x2="840.3" y2="916.5" stroke="#111" stroke-width="2.4"/>
<text x="840.3" y="939" font-size="20.2" text-anchor="middle" fill="#111" font-weight="bold">0.0</text>
<line x1="937.1" y1="908" x2="937.1" y2="916.5" stroke="#111" stroke-width="2.4"/>
<text x="937.1" y="939" font-size="20.2" text-anchor="middle" fill="#111" font-weight="bold">2.5</text>
<line x1="1034" y1="908" x2="1034" y2="916.5" stroke="#111" stroke-width="2.4"/>
<text x="1034" y="939" font-size="20.2" text-anchor="middle" fill="#111" font-weight="bold">5.0</text>
<line x1="1130.8" y1="908" x2="1130.8" y2="916.5" stroke="#111" stroke-width="2.4"/>
<text x="1130.8" y="939" font-size="20.2" text-anchor="middle" fill="#111" font-weight="bold">7.5</text>
<line x1="1227.7" y1="908" x2="1227.7" y2="916.5" stroke="#111" stroke-width="2.4"/>
<text x="1227.7" y="939" font-size="20.2" text-anchor="middle" fill="#111" font-weight="bold">10.0</text>
<line x1="1324.5" y1="908" x2="1324.5" y2="916.5" stroke="#111" stroke-width="2.4"/>
<text x="1324.5" y="939" font-size="20.2" text-anchor="middle" fill="#111" font-weight="bold">12.5</text>
<line x1="888.7" y1="908" x2="888.7" y2="913.2" stroke="#111" stroke-width="2.4"/>
<line x1="985.6" y1="908" x2="985.6" y2="913.2" stroke="#111" stroke-width="2.4"/>
<line x1="1082.4" y1="908" x2="1082.4" y2="913.2" stroke="#111" stroke-width="2.4"/>
<line x1="1179.2" y1="908" x2="1179.2" y2="913.2" stroke="#111" stroke-width="2.4"/>
<line x1="1276.1" y1="908" x2="1276.1" y2="913.2" stroke="#111" stroke-width="2.4"/>
<text x="784.5" y="731" font-size="27.7" text-anchor="middle" fill="#111" font-weight="bold" transform="rotate(-90 784.5 731)">Onset period (min)</text>
<text x="1082" y="980" font-size="27.5" text-anchor="middle" fill="#111" font-weight="bold">Content of crosslinker (%)</text>
<line x1="937.1" y1="850.8" x2="937.1" y2="818" stroke="#111" stroke-width="3.1"/>
<line x1="932.7" y1="850.8" x2="941.5" y2="850.8" stroke="#111" stroke-width="2.8000000000000003" stroke-linecap="round"/>
<line x1="932.7" y1="818" x2="941.5" y2="818" stroke="#111" stroke-width="2.8000000000000003" stroke-linecap="round"/>
<rect x="932" y="829.7" width="10.3" height="10.3" fill="#111"/>
<line x1="1034" y1="833.5" x2="1034" y2="777.8" stroke="#111" stroke-width="3.1"/>
<line x1="1029.6" y1="833.5" x2="1038.4" y2="833.5" stroke="#111" stroke-width="2.8000000000000003" stroke-linecap="round"/>
<line x1="1029.6" y1="777.8" x2="1038.4" y2="777.8" stroke="#111" stroke-width="2.8000000000000003" stroke-linecap="round"/>
<rect x="1028.8" y="800.7" width="10.3" height="10.3" fill="#111"/>
<line x1="1130.8" y1="815.2" x2="1130.8" y2="747.9" stroke="#111" stroke-width="3.1"/>
<line x1="1126.4" y1="815.2" x2="1135.2" y2="815.2" stroke="#111" stroke-width="2.8000000000000003" stroke-linecap="round"/>
<line x1="1126.4" y1="747.9" x2="1135.2" y2="747.9" stroke="#111" stroke-width="2.8000000000000003" stroke-linecap="round"/>
<rect x="1125.7" y="776.4" width="10.3" height="10.3" fill="#111"/>
<line x1="1227.7" y1="763.8" x2="1227.7" y2="638.4" stroke="#111" stroke-width="3.1"/>
<line x1="1223.3" y1="763.8" x2="1232.1" y2="763.8" stroke="#111" stroke-width="2.8000000000000003" stroke-linecap="round"/>
<line x1="1223.3" y1="638.4" x2="1232.1" y2="638.4" stroke="#111" stroke-width="2.8000000000000003" stroke-linecap="round"/>
<rect x="1222.5" y="695.9" width="10.3" height="10.3" fill="#111"/>
<rect x="148.6" y="1038.3" width="481.7" height="363.5" fill="none" stroke="#111" stroke-width="2.8"/>
<rect x="504.3" y="1035.3" width="11" height="6" fill="#fff" stroke="none" stroke-width="0"/>
<line x1="497.8" y1="1046.3" x2="513.8" y2="1030.3" stroke="#111" stroke-width="2.4"/>
<line x1="505.8" y1="1046.3" x2="521.8" y2="1030.3" stroke="#111" stroke-width="2.4"/>
<rect x="504.3" y="1398.8" width="11" height="6" fill="#fff" stroke="none" stroke-width="0"/>
<line x1="497.8" y1="1409.8" x2="513.8" y2="1393.8" stroke="#111" stroke-width="2.4"/>
<line x1="505.8" y1="1409.8" x2="521.8" y2="1393.8" stroke="#111" stroke-width="2.4"/>
<line x1="140.1" y1="1375.2" x2="148.6" y2="1375.2" stroke="#111" stroke-width="2.4"/>
<text x="133.1" y="1381.2" font-size="20.2" text-anchor="end" fill="#111" font-weight="bold">0</text>
<line x1="140.1" y1="1313.3" x2="148.6" y2="1313.3" stroke="#111" stroke-width="2.4"/>
<text x="133.1" y="1319.3" font-size="20.2" text-anchor="end" fill="#111" font-weight="bold">20</text>
<line x1="140.1" y1="1251.3" x2="148.6" y2="1251.3" stroke="#111" stroke-width="2.4"/>
<text x="133.1" y="1257.4" font-size="20.2" text-anchor="end" fill="#111" font-weight="bold">40</text>
<line x1="140.1" y1="1189.4" x2="148.6" y2="1189.4" stroke="#111" stroke-width="2.4"/>
<text x="133.1" y="1195.4" font-size="20.2" text-anchor="end" fill="#111" font-weight="bold">60</text>
<line x1="140.1" y1="1127.4" x2="148.6" y2="1127.4" stroke="#111" stroke-width="2.4"/>
<text x="133.1" y="1133.5" font-size="20.2" text-anchor="end" fill="#111" font-weight="bold">80</text>
<line x1="140.1" y1="1065.5" x2="148.6" y2="1065.5" stroke="#111" stroke-width="2.4"/>
<text x="133.1" y="1071.5" font-size="20.2" text-anchor="end" fill="#111" font-weight="bold">100</text>
<line x1="143.4" y1="1344.2" x2="148.6" y2="1344.2" stroke="#111" stroke-width="2.4"/>
<line x1="143.4" y1="1282.3" x2="148.6" y2="1282.3" stroke="#111" stroke-width="2.4"/>
<line x1="143.4" y1="1220.3" x2="148.6" y2="1220.3" stroke="#111" stroke-width="2.4"/>
<line x1="143.4" y1="1158.4" x2="148.6" y2="1158.4" stroke="#111" stroke-width="2.4"/>
<line x1="143.4" y1="1096.5" x2="148.6" y2="1096.5" stroke="#111" stroke-width="2.4"/>
<line x1="171.4" y1="1401.8" x2="171.4" y2="1410.3" stroke="#111" stroke-width="2.4"/>
<text x="171.4" y="1433.7" font-size="20.2" text-anchor="middle" fill="#111" font-weight="bold">0</text>
<line x1="245.6" y1="1401.8" x2="245.6" y2="1410.3" stroke="#111" stroke-width="2.4"/>
<text x="245.6" y="1433.7" font-size="20.2" text-anchor="middle" fill="#111" font-weight="bold">30</text>
<line x1="319.8" y1="1401.8" x2="319.8" y2="1410.3" stroke="#111" stroke-width="2.4"/>
<text x="319.8" y="1433.7" font-size="20.2" text-anchor="middle" fill="#111" font-weight="bold">60</text>
<line x1="393.9" y1="1401.8" x2="393.9" y2="1410.3" stroke="#111" stroke-width="2.4"/>
<text x="393.9" y="1433.7" font-size="20.2" text-anchor="middle" fill="#111" font-weight="bold">90</text>
<line x1="468.1" y1="1401.8" x2="468.1" y2="1410.3" stroke="#111" stroke-width="2.4"/>
<text x="468.1" y="1433.7" font-size="20.2" text-anchor="middle" fill="#111" font-weight="bold">120</text>
<line x1="208.5" y1="1401.8" x2="208.5" y2="1407" stroke="#111" stroke-width="2.4"/>
<line x1="282.7" y1="1401.8" x2="282.7" y2="1407" stroke="#111" stroke-width="2.4"/>
<line x1="356.8" y1="1401.8" x2="356.8" y2="1407" stroke="#111" stroke-width="2.4"/>
<line x1="431" y1="1401.8" x2="431" y2="1407" stroke="#111" stroke-width="2.4"/>
<line x1="544.3" y1="1401.8" x2="544.3" y2="1410.3" stroke="#111" stroke-width="2.4"/>
<text x="544.3" y="1433.7" font-size="20.2" text-anchor="middle" fill="#111" font-weight="bold">270</text>
<line x1="610.4" y1="1401.8" x2="610.4" y2="1410.3" stroke="#111" stroke-width="2.4"/>
<text x="610.4" y="1433.7" font-size="20.2" text-anchor="middle" fill="#111" font-weight="bold">300</text>
<line x1="577.3" y1="1401.8" x2="577.3" y2="1407" stroke="#111" stroke-width="2.4"/>
<text x="87" y="1218.5" font-size="27.5" text-anchor="middle" fill="#111" font-weight="bold" transform="rotate(-90 87 1218.5)">Shape recovery (%)</text>
<text x="389" y="1459.7" font-size="27.5" text-anchor="middle" fill="#111" font-weight="bold">Recovery time (min)</text>
<path d="M171.4 1375.2C171.8 1375.1 171.8 1376.6 172.6 1375C173.5 1373.5 172.6 1377.9 173.9 1370.6C175.1 1363.2 174.7 1367.1 176.3 1352.9C178 1338.7 177.2 1345.4 178.8 1327.8C180.5 1310.3 179.6 1318.4 181.3 1300.3C182.9 1282.1 182.1 1291.5 183.8 1273.3C185.4 1255.1 184.6 1263.3 186.2 1245.7C187.9 1228.2 187.1 1235.6 188.7 1220.7C190.4 1205.7 189.5 1213.1 191.2 1200.8C192.8 1188.6 192 1194.9 193.7 1183.8C195.3 1172.8 194.5 1177.8 196.1 1167.7C197.8 1157.6 196.9 1162.1 198.6 1153.5C200.2 1144.8 199.4 1148.4 201.1 1141.7C202.7 1135 201.9 1137.7 203.5 1133.3C205.2 1129 204.4 1130.8 206 1128.7C207.7 1126.5 207.7 1127.4 208.5 1126.8" fill="none" stroke="#1414f0" stroke-width="2.2" stroke-linecap="round" stroke-linejoin="round"/>
<path d="M171.4 1375.2C172.6 1375.1 172.5 1375.6 175.1 1375C177.7 1374.5 176.8 1376.1 179.2 1373.5C181.6 1370.8 180.3 1372.4 182.3 1367.1C184.3 1361.9 182.8 1365.5 185.2 1357.9C187.7 1350.2 186.4 1353.3 189.6 1344.2C192.7 1335.1 190.9 1339.5 194.6 1330.6C198.4 1321.7 196.8 1325.6 200.8 1317.6C204.9 1309.5 202.8 1313.7 206.8 1306.4C210.7 1299.2 208.7 1302.2 212.7 1295.9C216.7 1289.6 214.5 1293.2 218.9 1287.6C223.2 1281.9 221.3 1284 225.8 1278.9C230.3 1273.7 226.2 1278.7 232.5 1272.1C238.7 1265.5 236.5 1266.8 244.6 1259.1C252.7 1251.3 248.1 1255.4 256.7 1248.8C265.3 1242.2 261.7 1245 270.3 1239.2C278.9 1233.5 274.2 1236.8 282.4 1231.5C290.7 1226.2 286.9 1228.1 295 1223.4C303.1 1218.8 298.4 1221.6 306.6 1217.6C314.9 1213.5 306.5 1216.4 319.8 1211.4C333 1206.3 328.7 1207.2 346.5 1202.4C364.3 1197.5 357.4 1199.8 373.2 1196.8C388.9 1193.8 376 1196 393.7 1193.4C411.3 1190.8 401.3 1191.5 426.1 1189.1C450.9 1186.6 454.1 1187 468.1 1186" fill="none" stroke="#f40d12" stroke-width="2.2" stroke-linecap="round" stroke-linejoin="round"/>
<path d="M171.4 1375.2C178.8 1373.8 181.3 1373.5 193.7 1370.9C206 1368.2 199.4 1369.8 208.5 1367.1C217.6 1364.5 212.6 1366.4 220.9 1362.8C229.1 1359.2 226.8 1360.1 233.2 1356.3C239.6 1352.5 234.2 1355.7 240 1351.4C245.9 1347 243.6 1349.5 250.8 1343.3C257.9 1337.1 255.5 1339.9 261.4 1332.8C267.3 1325.6 263.6 1330.3 268.3 1321.9C273 1313.6 271.3 1315.9 275.5 1307.7C279.7 1299.4 277.1 1303.7 280.9 1297.2C284.8 1290.7 282.4 1294.1 287.1 1288.2C291.8 1282.3 288.5 1286 295 1279.5C301.5 1273 298.4 1275 306.6 1268.7C314.9 1262.4 309.4 1266.5 319.8 1260.6C330.1 1254.7 325.7 1257.1 337.6 1251C349.4 1244.9 343.5 1247.5 355.4 1242.3C367.2 1237.2 360.4 1240.2 373.2 1235.5C385.9 1230.9 378.9 1233 393.7 1228.4C408.4 1223.8 400.6 1225.9 417.4 1221.6C434.2 1217.3 427.2 1218.6 444.1 1215.4C461 1212.2 460.1 1213.1 468.1 1212" fill="none" stroke="#127a33" stroke-width="2.2" stroke-linecap="round" stroke-linejoin="round"/>
<path d="M171.4 1375.2C175.5 1375.8 171.4 1376.1 183.8 1377.1C196.1 1378 189.7 1377.5 208.5 1378C227.2 1378.5 223.6 1378.5 240 1378.5C256.4 1378.5 245.9 1379 257.7 1378C269.5 1376.9 263.6 1378.6 275.5 1375.3C287.4 1372 285 1372.6 293.3 1368.2C301.6 1363.8 296.9 1366.1 300.5 1362C304 1357.8 301.6 1361.4 303.9 1355.8C306.2 1350.2 305 1351.7 307.4 1345.2C309.8 1338.6 308.1 1342.7 311.1 1336.2C314.1 1329.7 312.7 1332.2 316.3 1325.6C319.8 1319.1 317.5 1322.9 321.7 1316.7C325.9 1310.5 323 1314.5 328.9 1307.1C334.8 1299.6 331.3 1303.2 339.5 1294.4C347.8 1285.5 344.2 1289 353.6 1280.4C363 1271.9 358.2 1275.8 367.7 1268.7C377.2 1261.5 373.4 1264.6 382.1 1259.1C390.7 1253.5 384.8 1256.9 393.7 1251.9C402.6 1247 397.9 1249.6 408.8 1244.2C419.6 1238.8 414.5 1241.3 426.3 1235.8C438.1 1230.4 430.2 1233.3 444.1 1227.8C458 1222.3 460.1 1222.2 468.1 1219.4" fill="none" stroke="#f5891f" stroke-width="2.2" stroke-linecap="round" stroke-linejoin="round"/>
<path d="M171.4 1370L176.3 1375.2L171.4 1380.4L166.5 1375.2Z" fill="#1414f0"/>
<path d="M172.6 1370L177.5 1375.2L172.6 1380.4L167.8 1375.2Z" fill="#1414f0"/>
<path d="M173.8 1363.6L178.7 1368.9L173.8 1374.1L169 1368.9Z" fill="#1414f0"/>
<path d="M176.3 1346.8L181.1 1352L176.3 1357.2L171.4 1352Z" fill="#1414f0"/>
<path d="M178.8 1306.5L183.6 1311.7L178.8 1316.9L173.9 1311.7Z" fill="#1414f0"/>
<path d="M181.2 1277.1L186.1 1282.3L181.2 1287.5L176.4 1282.3Z" fill="#1414f0"/>
<path d="M183.7 1261.9L188.6 1267.1L183.7 1272.3L178.9 1267.1Z" fill="#1414f0"/>
<path d="M186.2 1234L191 1239.2L186.2 1244.5L181.3 1239.2Z" fill="#1414f0"/>
<path d="M188.7 1212.3L193.5 1217.6L188.7 1222.8L183.8 1217.6Z" fill="#1414f0"/>
<path d="M191.2 1198.1L196 1203.3L191.2 1208.5L186.3 1203.3Z" fill="#1414f0"/>
<path d="M193.7 1176.1L198.5 1181.3L193.7 1186.5L188.8 1181.3Z" fill="#1414f0"/>
<path d="M196.1 1163.4L201 1168.6L196.1 1173.9L191.3 1168.6Z" fill="#1414f0"/>
<path d="M198.6 1150.1L203.5 1155.3L198.6 1160.5L193.7 1155.3Z" fill="#1414f0"/>
<path d="M201.1 1127.8L205.9 1133L201.1 1138.2L196.2 1133Z" fill="#1414f0"/>
<path d="M203.5 1127.2L208.4 1132.4L203.5 1137.6L198.7 1132.4Z" fill="#1414f0"/>
<path d="M206 1125L210.9 1130.2L206 1135.4L201.2 1130.2Z" fill="#1414f0"/>
<path d="M208.5 1120.1L213.3 1125.3L208.5 1130.5L203.6 1125.3Z" fill="#1414f0"/>
<circle cx="171.4" cy="1375.2" r="3.5" fill="#e8202a"/>
<circle cx="176.3" cy="1372.1" r="3.5" fill="#e8202a"/>
<circle cx="181.3" cy="1365" r="3.5" fill="#e8202a"/>
<circle cx="191.2" cy="1338.7" r="3.5" fill="#e8202a"/>
<circle cx="196.1" cy="1330" r="3.5" fill="#e8202a"/>
<circle cx="201.1" cy="1323.2" r="3.5" fill="#e8202a"/>
<circle cx="206" cy="1317" r="3.5" fill="#e8202a"/>
<circle cx="210.2" cy="1308.6" r="3.5" fill="#e8202a"/>
<circle cx="215.7" cy="1300.9" r="3.5" fill="#e8202a"/>
<circle cx="220.9" cy="1293.7" r="3.5" fill="#e8202a"/>
<circle cx="233.2" cy="1277.3" r="3.5" fill="#e8202a"/>
<circle cx="245.6" cy="1258.1" r="3.5" fill="#e8202a"/>
<circle cx="257.9" cy="1247.6" r="3.5" fill="#e8202a"/>
<circle cx="270.3" cy="1239.6" r="3.5" fill="#e8202a"/>
<circle cx="282.7" cy="1231.5" r="3.5" fill="#e8202a"/>
<circle cx="295" cy="1222.8" r="3.5" fill="#e8202a"/>
<circle cx="307.4" cy="1217.3" r="3.5" fill="#e8202a"/>
<circle cx="319.8" cy="1210.7" r="3.5" fill="#e8202a"/>
<circle cx="393.9" cy="1193.4" r="3.5" fill="#e8202a"/>
<circle cx="468.1" cy="1185.7" r="3.5" fill="#e8202a"/>
<path d="M208 1362.1L212.9 1370.7L203 1370.7Z" fill="#127a33"/>
<path d="M220.9 1357.2L225.8 1365.7L215.9 1365.7Z" fill="#127a33"/>
<path d="M232.7 1351.3L237.7 1359.8L227.8 1359.8Z" fill="#127a33"/>
<path d="M245.1 1341.1L250 1349.6L240.1 1349.6Z" fill="#127a33"/>
<path d="M257.7 1324L262.6 1332.6L252.7 1332.6Z" fill="#127a33"/>
<path d="M270.1 1308.2L275 1316.8L265.1 1316.8Z" fill="#127a33"/>
<path d="M282.4 1297.4L287.4 1305.9L277.5 1305.9Z" fill="#127a33"/>
<path d="M295 1276L300 1284.6L290.1 1284.6Z" fill="#127a33"/>
<path d="M307.1 1263.9L312.1 1272.5L302.2 1272.5Z" fill="#127a33"/>
<path d="M319.8 1255.6L324.7 1264.1L314.8 1264.1Z" fill="#127a33"/>
<path d="M393.9 1230.2L398.9 1238.7L389 1238.7Z" fill="#127a33"/>
<path d="M468.1 1206.6L473.1 1215.2L463.2 1215.2Z" fill="#127a33"/>
<rect x="167.9" y="1371.7" width="7" height="7" fill="#ea8a30"/>
<rect x="180.3" y="1371.7" width="7" height="7" fill="#ea8a30"/>
<rect x="192.6" y="1371.4" width="7" height="7" fill="#ea8a30"/>
<rect x="205" y="1371.4" width="7" height="7" fill="#ea8a30"/>
<rect x="217.4" y="1371.7" width="7" height="7" fill="#ea8a30"/>
<rect x="229.7" y="1371.7" width="7" height="7" fill="#ea8a30"/>
<rect x="242.1" y="1371.7" width="7" height="7" fill="#ea8a30"/>
<rect x="254.4" y="1371.4" width="7" height="7" fill="#ea8a30"/>
<rect x="291.5" y="1364" width="7" height="7" fill="#ea8a30"/>
<rect x="303.6" y="1358.4" width="7" height="7" fill="#ea8a30"/>
<rect x="316.2" y="1311.9" width="7" height="7" fill="#ea8a30"/>
<rect x="390.4" y="1266.4" width="7" height="7" fill="#ea8a30"/>
<rect x="464.6" y="1217.5" width="7" height="7" fill="#ea8a30"/>
<line x1="544.3" y1="1128.4" x2="610.4" y2="1126.8" stroke="#e8202a" stroke-width="2.2"/>
<circle cx="544.3" cy="1128.4" r="3.5" fill="#e8202a"/>
<circle cx="610.4" cy="1126.8" r="3.5" fill="#e8202a"/>
<line x1="544.3" y1="1174.8" x2="610.4" y2="1171.4" stroke="#ea8a30" stroke-width="2.2"/>
<rect x="540.8" y="1171.3" width="7" height="7" fill="#ea8a30"/>
<rect x="606.9" y="1167.9" width="7" height="7" fill="#ea8a30"/>
<line x1="544.3" y1="1186" x2="610.4" y2="1183.5" stroke="#127a33" stroke-width="2.2"/>
<path d="M544.3 1181.2L549.2 1189.8L539.3 1189.8Z" fill="#127a33"/>
<path d="M610.4 1178.8L615.4 1187.3L605.4 1187.3Z" fill="#127a33"/>
<path d="M259 1063.4L263.9 1068.6L259 1073.8L254.1 1068.6Z" fill="#1414f0"/>
<text x="327.7" y="1077" font-size="24.2" text-anchor="middle" fill="#111" font-weight="bold">10 min</text>
<circle cx="259" cy="1098.7" r="3.8" fill="#e8202a"/>
<text x="327.7" y="1107.1" font-size="24.2" text-anchor="middle" fill="#111" font-weight="bold">30 min</text>
<path d="M259 1124.3L263.9 1132.8L254.1 1132.8Z" fill="#127a33"/>
<text x="327.7" y="1137.4" font-size="24.2" text-anchor="middle" fill="#111" font-weight="bold">60 min</text>
<rect x="255.5" y="1156.2" width="7" height="7" fill="#ea8a30"/>
<text x="327.7" y="1168.1" font-size="24.2" text-anchor="middle" fill="#111" font-weight="bold">120 min</text>
<line x1="148.6" y1="1357.9" x2="302.9" y2="1357.9" stroke="#111" stroke-width="1.9" stroke-dasharray="4.4 3.2"/>
<line x1="177.3" y1="1357.9" x2="177.3" y2="1401.8" stroke="#111" stroke-width="1.9" stroke-dasharray="4.4 3.2"/>
<line x1="184.8" y1="1357.9" x2="184.8" y2="1401.8" stroke="#111" stroke-width="1.9" stroke-dasharray="4.4 3.2"/>
<line x1="230.5" y1="1357.9" x2="230.5" y2="1401.8" stroke="#111" stroke-width="1.9" stroke-dasharray="4.4 3.2"/>
<line x1="302.9" y1="1357.9" x2="302.9" y2="1401.8" stroke="#111" stroke-width="1.9" stroke-dasharray="4.4 3.2"/>
<rect x="840.3" y="1036.8" width="484.1" height="355.2" fill="none" stroke="#111" stroke-width="2.8"/>
<line x1="831.8" y1="1366.5" x2="840.3" y2="1366.5" stroke="#111" stroke-width="2.4"/>
<text x="824.8" y="1372.5" font-size="20.2" text-anchor="end" fill="#111" font-weight="bold">0</text>
<line x1="831.8" y1="1290.3" x2="840.3" y2="1290.3" stroke="#111" stroke-width="2.4"/>
<text x="824.8" y="1296.3" font-size="20.2" text-anchor="end" fill="#111" font-weight="bold">30</text>
<line x1="831.8" y1="1214.1" x2="840.3" y2="1214.1" stroke="#111" stroke-width="2.4"/>
<text x="824.8" y="1220.1" font-size="20.2" text-anchor="end" fill="#111" font-weight="bold">60</text>
<line x1="831.8" y1="1137.9" x2="840.3" y2="1137.9" stroke="#111" stroke-width="2.4"/>
<text x="824.8" y="1143.9" font-size="20.2" text-anchor="end" fill="#111" font-weight="bold">90</text>
<line x1="831.8" y1="1061.7" x2="840.3" y2="1061.7" stroke="#111" stroke-width="2.4"/>
<text x="824.8" y="1067.7" font-size="20.2" text-anchor="end" fill="#111" font-weight="bold">120</text>
<line x1="835.1" y1="1328.4" x2="840.3" y2="1328.4" stroke="#111" stroke-width="2.4"/>
<line x1="835.1" y1="1252.2" x2="840.3" y2="1252.2" stroke="#111" stroke-width="2.4"/>
<line x1="835.1" y1="1176" x2="840.3" y2="1176" stroke="#111" stroke-width="2.4"/>
<line x1="835.1" y1="1099.8" x2="840.3" y2="1099.8" stroke="#111" stroke-width="2.4"/>
<line x1="867.2" y1="1392" x2="867.2" y2="1400.5" stroke="#111" stroke-width="2.4"/>
<text x="867.2" y="1423.8" font-size="20.2" text-anchor="middle" fill="#111" font-weight="bold">0</text>
<line x1="974.7" y1="1392" x2="974.7" y2="1400.5" stroke="#111" stroke-width="2.4"/>
<text x="974.7" y="1423.8" font-size="20.2" text-anchor="middle" fill="#111" font-weight="bold">40</text>
<line x1="1082.2" y1="1392" x2="1082.2" y2="1400.5" stroke="#111" stroke-width="2.4"/>
<text x="1082.2" y="1423.8" font-size="20.2" text-anchor="middle" fill="#111" font-weight="bold">80</text>
<line x1="1189.7" y1="1392" x2="1189.7" y2="1400.5" stroke="#111" stroke-width="2.4"/>
<text x="1189.7" y="1423.8" font-size="20.2" text-anchor="middle" fill="#111" font-weight="bold">120</text>
<line x1="1297.2" y1="1392" x2="1297.2" y2="1400.5" stroke="#111" stroke-width="2.4"/>
<text x="1297.2" y="1423.8" font-size="20.2" text-anchor="middle" fill="#111" font-weight="bold">160</text>
<line x1="921" y1="1392" x2="921" y2="1397.2" stroke="#111" stroke-width="2.4"/>
<line x1="1028.5" y1="1392" x2="1028.5" y2="1397.2" stroke="#111" stroke-width="2.4"/>
<line x1="1136" y1="1392" x2="1136" y2="1397.2" stroke="#111" stroke-width="2.4"/>
<line x1="1243.5" y1="1392" x2="1243.5" y2="1397.2" stroke="#111" stroke-width="2.4"/>
<text x="779.5" y="1215" font-size="27.7" text-anchor="middle" fill="#111" font-weight="bold" transform="rotate(-90 779.5 1215)">Onset period (min)</text>
<text x="1082" y="1450.8" font-size="27.5" text-anchor="middle" fill="#111" font-weight="bold">Programming time (min)</text>
<line x1="894.1" y1="1365.7" x2="894.1" y2="1357.6" stroke="#111" stroke-width="3.1"/>
<line x1="889.7" y1="1365.7" x2="898.5" y2="1365.7" stroke="#111" stroke-width="2.8000000000000003" stroke-linecap="round"/>
<line x1="889.7" y1="1357.6" x2="898.5" y2="1357.6" stroke="#111" stroke-width="2.8000000000000003" stroke-linecap="round"/>
<rect x="888.9" y="1356.8" width="10.3" height="10.3" fill="#111"/>
<line x1="947.8" y1="1356.3" x2="947.8" y2="1342.4" stroke="#111" stroke-width="3.1"/>
<line x1="943.4" y1="1356.3" x2="952.2" y2="1356.3" stroke="#111" stroke-width="2.8000000000000003" stroke-linecap="round"/>
<line x1="943.4" y1="1342.4" x2="952.2" y2="1342.4" stroke="#111" stroke-width="2.8000000000000003" stroke-linecap="round"/>
<rect x="942.7" y="1343.6" width="10.3" height="10.3" fill="#111"/>
<line x1="1028.5" y1="1306.8" x2="1028.5" y2="1281.4" stroke="#111" stroke-width="3.1"/>
<line x1="1024" y1="1306.8" x2="1032.9" y2="1306.8" stroke="#111" stroke-width="2.8000000000000003" stroke-linecap="round"/>
<line x1="1024" y1="1281.4" x2="1032.9" y2="1281.4" stroke="#111" stroke-width="2.8000000000000003" stroke-linecap="round"/>
<rect x="1023.3" y="1289" width="10.3" height="10.3" fill="#111"/>
<line x1="1189.7" y1="1259.1" x2="1189.7" y2="1219.2" stroke="#111" stroke-width="3.1"/>
<line x1="1185.3" y1="1259.1" x2="1194.1" y2="1259.1" stroke="#111" stroke-width="2.8000000000000003" stroke-linecap="round"/>
<line x1="1185.3" y1="1219.2" x2="1194.1" y2="1219.2" stroke="#111" stroke-width="2.8000000000000003" stroke-linecap="round"/>
<rect x="1184.5" y="1234.3" width="10.3" height="10.3" fill="#111"/>
<line x1="1270.3" y1="1277.6" x2="1270.3" y2="1054.1" stroke="#111" stroke-width="3.1"/>
<line x1="1265.9" y1="1277.6" x2="1274.7" y2="1277.6" stroke="#111" stroke-width="2.8000000000000003" stroke-linecap="round"/>
<line x1="1265.9" y1="1054.1" x2="1274.7" y2="1054.1" stroke="#111" stroke-width="2.8000000000000003" stroke-linecap="round"/>
<rect x="1265.2" y="1160.7" width="10.3" height="10.3" fill="#111"/>
<ellipse cx="1271.9" cy="1167.2" rx="27.6" ry="19.2" fill="none" stroke="#c8171e" stroke-width="2"/>
<text x="1202.5" y="1142.3" font-size="22.7" text-anchor="middle" fill="#c8171e" font-weight="bold">Unstable</text>
<line x1="97.5" y1="131.9" x2="67.7" y2="114.7" stroke="#111" stroke-width="2.2" stroke-linecap="round"/>
<line x1="99.1" y1="126.1" x2="73.2" y2="111.2" stroke="#111" stroke-width="2.2" stroke-linecap="round"/>
<line x1="97.5" y1="131.9" x2="127.2" y2="114.7" stroke="#111" stroke-width="2.2" stroke-linecap="round"/>
<line x1="124.2" y1="114.7" x2="124.2" y2="90.9" stroke="#111" stroke-width="2.2" stroke-linecap="round"/>
<line x1="130.2" y1="114.7" x2="130.2" y2="90.9" stroke="#111" stroke-width="2.2" stroke-linecap="round"/>
<line x1="127.2" y1="114.7" x2="148.6" y2="127.1" stroke="#111" stroke-width="2.2" stroke-linecap="round"/>
<line x1="165.3" y1="127.1" x2="186.7" y2="114.7" stroke="#111" stroke-width="2.2" stroke-linecap="round"/>
<line x1="186.7" y1="114.7" x2="186.7" y2="80.3" stroke="#111" stroke-width="2.2" stroke-linecap="round"/>
<line x1="186.7" y1="114.7" x2="216.4" y2="131.9" stroke="#111" stroke-width="2.2" stroke-linecap="round"/>
<text x="127.2" y="87.1" font-size="19" text-anchor="middle" fill="#111" font-weight="normal">O</text>
<text x="156.9" y="138.7" font-size="19" text-anchor="middle" fill="#111" font-weight="normal">N</text>
<text x="156.9" y="155.2" font-size="19" text-anchor="middle" fill="#111" font-weight="normal">H</text>
<line x1="75.5" y1="254.1" x2="45.7" y2="236.9" stroke="#111" stroke-width="2.2" stroke-linecap="round"/>
<line x1="77.1" y1="248.3" x2="51.2" y2="233.4" stroke="#111" stroke-width="2.2" stroke-linecap="round"/>
<line x1="75.5" y1="254.1" x2="105.2" y2="236.9" stroke="#111" stroke-width="2.2" stroke-linecap="round"/>
<line x1="102.2" y1="236.9" x2="102.2" y2="213.1" stroke="#111" stroke-width="2.2" stroke-linecap="round"/>
<line x1="108.2" y1="236.9" x2="108.2" y2="213.1" stroke="#111" stroke-width="2.2" stroke-linecap="round"/>
<line x1="105.2" y1="236.9" x2="126.6" y2="249.3" stroke="#111" stroke-width="2.2" stroke-linecap="round"/>
<line x1="143.3" y1="249.3" x2="164.7" y2="236.9" stroke="#111" stroke-width="2.2" stroke-linecap="round"/>
<line x1="164.7" y1="236.9" x2="186.1" y2="249.3" stroke="#111" stroke-width="2.2" stroke-linecap="round"/>
<text x="105.2" y="209.3" font-size="19" text-anchor="middle" fill="#111" font-weight="normal">O</text>
<text x="134.9" y="260.9" font-size="19" text-anchor="middle" fill="#111" font-weight="normal">O</text>
<text x="194.4" y="260.9" font-size="19" text-anchor="middle" fill="#111" font-weight="normal">O</text>
<line x1="202.8" y1="249.3" x2="224.2" y2="236.9" stroke="#111" stroke-width="2.2" stroke-linecap="round"/>
<line x1="224.2" y1="236.9" x2="224.2" y2="202.5" stroke="#111" stroke-width="2.2" stroke-linecap="round"/>
<line x1="224.2" y1="202.5" x2="253.9" y2="185.3" stroke="#111" stroke-width="2.2" stroke-linecap="round"/>
<line x1="231.5" y1="204.7" x2="252.3" y2="192.8" stroke="#111" stroke-width="2.2" stroke-linecap="round"/>
<line x1="253.9" y1="185.3" x2="283.7" y2="202.5" stroke="#111" stroke-width="2.2" stroke-linecap="round"/>
<line x1="283.7" y1="202.5" x2="283.7" y2="236.9" stroke="#111" stroke-width="2.2" stroke-linecap="round"/>
<line x1="278.1" y1="207.7" x2="278.1" y2="231.7" stroke="#111" stroke-width="2.2" stroke-linecap="round"/>
<line x1="283.7" y1="236.9" x2="253.9" y2="254.1" stroke="#111" stroke-width="2.2" stroke-linecap="round"/>
<line x1="253.9" y1="254.1" x2="224.2" y2="236.9" stroke="#111" stroke-width="2.2" stroke-linecap="round"/>
<line x1="252.3" y1="246.6" x2="231.5" y2="234.7" stroke="#111" stroke-width="2.2" stroke-linecap="round"/>
<line x1="283.7" y1="202.5" x2="313.4" y2="185.3" stroke="#111" stroke-width="2.2" stroke-linecap="round"/>
<line x1="310.4" y1="185.3" x2="310.4" y2="161.5" stroke="#111" stroke-width="2.2" stroke-linecap="round"/>
<line x1="316.4" y1="185.3" x2="316.4" y2="161.5" stroke="#111" stroke-width="2.2" stroke-linecap="round"/>
<line x1="313.4" y1="185.3" x2="334.9" y2="197.7" stroke="#111" stroke-width="2.2" stroke-linecap="round"/>
<text x="313.4" y="157.7" font-size="19" text-anchor="middle" fill="#111" font-weight="normal">O</text>
<text x="343.2" y="209.3" font-size="19" text-anchor="middle" fill="#111" font-weight="normal">O</text>
<line x1="351.5" y1="197.7" x2="372.9" y2="185.3" stroke="#111" stroke-width="2.2" stroke-linecap="round"/>
<line x1="372.9" y1="185.3" x2="372.9" y2="150.9" stroke="#111" stroke-width="2.2" stroke-linecap="round"/>
<line x1="378.6" y1="180.1" x2="378.6" y2="156.1" stroke="#111" stroke-width="2.2" stroke-linecap="round"/>
<line x1="372.9" y1="150.9" x2="402.7" y2="133.7" stroke="#111" stroke-width="2.2" stroke-linecap="round"/>
<line x1="402.7" y1="133.7" x2="432.4" y2="150.9" stroke="#111" stroke-width="2.2" stroke-linecap="round"/>
<line x1="404.4" y1="141.2" x2="425.1" y2="153.1" stroke="#111" stroke-width="2.2" stroke-linecap="round"/>
<line x1="432.4" y1="150.9" x2="432.4" y2="185.3" stroke="#111" stroke-width="2.2" stroke-linecap="round"/>
<line x1="432.4" y1="185.3" x2="402.7" y2="202.5" stroke="#111" stroke-width="2.2" stroke-linecap="round"/>
<line x1="425.1" y1="183.1" x2="404.4" y2="195" stroke="#111" stroke-width="2.2" stroke-linecap="round"/>
<line x1="402.7" y1="202.5" x2="372.9" y2="185.3" stroke="#111" stroke-width="2.2" stroke-linecap="round"/>
<line x1="372.9" y1="150.9" x2="343.2" y2="133.7" stroke="#111" stroke-width="2.2" stroke-linecap="round"/>
<line x1="432.4" y1="150.9" x2="453.9" y2="138.5" stroke="#111" stroke-width="2.2" stroke-linecap="round"/>
<line x1="470.5" y1="138.5" x2="491.9" y2="150.9" stroke="#111" stroke-width="2.2" stroke-linecap="round"/>
<line x1="494.9" y1="150.9" x2="494.9" y2="174.7" stroke="#111" stroke-width="2.2" stroke-linecap="round"/>
<line x1="488.9" y1="150.9" x2="488.9" y2="174.7" stroke="#111" stroke-width="2.2" stroke-linecap="round"/>
<text x="462.2" y="140.5" font-size="19" text-anchor="middle" fill="#111" font-weight="normal">O</text>
<text x="491.9" y="192.1" font-size="19" text-anchor="middle" fill="#111" font-weight="normal">O</text>
<line x1="491.9" y1="150.9" x2="521.7" y2="133.7" stroke="#111" stroke-width="2.2" stroke-linecap="round"/>
<line x1="521.7" y1="133.7" x2="521.7" y2="99.3" stroke="#111" stroke-width="2.2" stroke-linecap="round"/>
<line x1="521.7" y1="99.3" x2="551.5" y2="82.1" stroke="#111" stroke-width="2.2" stroke-linecap="round"/>
<line x1="529" y1="101.5" x2="549.8" y2="89.6" stroke="#111" stroke-width="2.2" stroke-linecap="round"/>
<line x1="551.5" y1="82.1" x2="581.2" y2="99.3" stroke="#111" stroke-width="2.2" stroke-linecap="round"/>
<line x1="581.2" y1="99.3" x2="581.2" y2="133.7" stroke="#111" stroke-width="2.2" stroke-linecap="round"/>
<line x1="575.6" y1="104.5" x2="575.6" y2="128.5" stroke="#111" stroke-width="2.2" stroke-linecap="round"/>
<line x1="581.2" y1="133.7" x2="551.5" y2="150.9" stroke="#111" stroke-width="2.2" stroke-linecap="round"/>
<line x1="551.5" y1="150.9" x2="521.7" y2="133.7" stroke="#111" stroke-width="2.2" stroke-linecap="round"/>
<line x1="549.8" y1="143.4" x2="529" y2="131.5" stroke="#111" stroke-width="2.2" stroke-linecap="round"/>
<line x1="581.2" y1="99.3" x2="602.6" y2="86.9" stroke="#111" stroke-width="2.2" stroke-linecap="round"/>
<line x1="619.3" y1="86.9" x2="640.7" y2="99.3" stroke="#111" stroke-width="2.2" stroke-linecap="round"/>
<line x1="640.7" y1="99.3" x2="662.1" y2="86.9" stroke="#111" stroke-width="2.2" stroke-linecap="round"/>
<line x1="678.8" y1="86.9" x2="700.2" y2="99.3" stroke="#111" stroke-width="2.2" stroke-linecap="round"/>
<line x1="703.2" y1="99.3" x2="703.2" y2="123.1" stroke="#111" stroke-width="2.2" stroke-linecap="round"/>
<line x1="697.2" y1="99.3" x2="697.2" y2="123.1" stroke="#111" stroke-width="2.2" stroke-linecap="round"/>
<line x1="700.2" y1="99.3" x2="730" y2="82.1" stroke="#111" stroke-width="2.2" stroke-linecap="round"/>
<line x1="730" y1="82.1" x2="759.7" y2="99.3" stroke="#111" stroke-width="2.2" stroke-linecap="round"/>
<line x1="728.3" y1="87.9" x2="754.2" y2="102.8" stroke="#111" stroke-width="2.2" stroke-linecap="round"/>
<text x="611" y="88.9" font-size="19" text-anchor="middle" fill="#111" font-weight="normal">O</text>
<text x="670.5" y="88.9" font-size="19" text-anchor="middle" fill="#111" font-weight="normal">O</text>
<text x="700.2" y="140.5" font-size="19" text-anchor="middle" fill="#111" font-weight="normal">O</text>
<path d="M155.5 224.9Q144.1 247.6 155.5 270.2" fill="none" stroke="#111" stroke-width="2.2" stroke-linecap="round"/>
<path d="M173.5 225.3Q185.5 248 173.5 270.6" fill="none" stroke="#111" stroke-width="2.2" stroke-linecap="round"/>
<text x="183.4" y="280.8" font-size="13" text-anchor="middle" fill="#111" font-weight="normal">6</text>
<path d="M630.6 70.5Q618.6 93 630.6 115.6" fill="none" stroke="#111" stroke-width="2.2" stroke-linecap="round"/>
<path d="M648.6 69Q660.6 91.4 648.6 113.8" fill="none" stroke="#111" stroke-width="2.2" stroke-linecap="round"/>
<text x="658.3" y="125.6" font-size="13" text-anchor="middle" fill="#111" font-weight="normal">6</text>
<text x="40.2" y="64.4" font-size="22.8" font-weight="bold" fill="#111"><tspan font-style="italic">N</tspan>-isopropyl acrylamide</text>
<text x="40" y="189.3" font-size="22.9" text-anchor="start" fill="#111" font-weight="bold">Crosslinker</text>
<defs><filter id="b1" x="-10%" y="-10%" width="120%" height="120%"><feGaussianBlur stdDeviation="0.7"/></filter><filter id="b2" x="-10%" y="-10%" width="120%" height="120%"><feGaussianBlur stdDeviation="1.6"/></filter><filter id="b05" x="-10%" y="-10%" width="120%" height="120%"><feGaussianBlur stdDeviation="0.6"/></filter><linearGradient id="gbg" x1="0" y1="0" x2="0.6" y2="1"><stop offset="0" stop-color="#2b2e31"/><stop offset="0.5" stop-color="#1d1f22"/><stop offset="1" stop-color="#18191b"/></linearGradient></defs>
<rect x="42.2" y="291.7" width="608.3" height="87.2" rx="13" ry="13" fill="none" stroke="#c4202e" stroke-width="2.4" stroke-dasharray="8.4 8"/>
<rect x="41.8" y="409.8" width="608.9" height="90.2" rx="13" ry="13" fill="none" stroke="#2a2f78" stroke-width="2.3" stroke-dasharray="8.6 7.9"/>
<text x="346.5" y="280.5" font-size="22.5" text-anchor="middle" fill="#b8182c" font-weight="bold">Onset period</text>
<text x="353.3" y="405.8" font-size="22.8" text-anchor="middle" fill="#202a80" font-weight="bold">Recovery period</text>
<clipPath id="pc1"><rect x="63" y="303.7" width="169.8" height="71.7"/></clipPath>
<g clip-path="url(#pc1)">
<rect x="63" y="303.7" width="169.8" height="71.7" fill="#08090b" stroke="none" stroke-width="0"/>
<polygon points="81,356.8 85.2,342.8 97.2,321.7 101.4,321.7 122.5,332.2 133.7,325.2 144.9,319.6 153.4,320 206.8,316.1 211.7,318.9 209.6,323.1 182.2,349.1 173,342.8 161.8,348.4 146.3,350.5 104.2,352.6 88.7,358.2" fill="#e6f1f6" opacity="1" filter="url(#b1)"/>
<polygon points="81.7,356.1 85.9,343.5 97.2,323.1 111.2,335.8 101.4,351.2 88.7,357.5" fill="#bcd6e6" opacity="0.9" filter="url(#b2)"/>
<polygon points="133.7,326.6 144.9,321 156.2,321.7 167.4,341.4 161.8,347 144.9,337.2" fill="#c2d8e2" opacity="0.85" filter="url(#b2)"/>
<polygon points="157.6,321 206.8,317.2 209.6,321.7 182.2,347.7 173.7,341.4" fill="#f4f8fa" opacity="0.9" filter="url(#b1)"/>
<polygon points="97.2,341.4 146.3,342.8 170.2,343.5 146.3,350.1 104.2,351.9" fill="#ffffff" opacity="0.8" filter="url(#b2)"/>
<rect x="201.9" y="361" width="19.6" height="4.7" fill="#fff" stroke="none" stroke-width="0"/>
<text x="69.8" y="315.4" font-size="20.5" text-anchor="start" fill="#fff" font-weight="bold">0 min</text>
</g>
<clipPath id="pc2"><rect x="263.7" y="295.1" width="169.8" height="80.3"/></clipPath>
<g clip-path="url(#pc2)">
<rect x="263.7" y="295.1" width="169.8" height="80.3" fill="#08090b" stroke="none" stroke-width="0"/>
<polygon points="285.9,360.9 288,348.2 302.1,325.8 306.3,325.8 329.5,336.3 339.3,329.3 350.6,323.6 409.6,320.8 414.5,323.6 413.1,328.6 385,353.9 376.6,347.5 361.8,353.9 344.9,353.9 301.4,360.9 288.7,363" fill="#c4d9ec" opacity="1" filter="url(#b1)"/>
<polygon points="287.3,360.2 289.4,348.2 302.1,327.2 318.2,341.2 311.2,358.1 290.1,362" fill="#8fb0d2" opacity="0.85" filter="url(#b2)"/>
<polygon points="339.3,331.4 352,325.1 361.8,331.4 370.2,346.8 361.8,352.5 346.3,341.2" fill="#7c9fc6" opacity="0.9" filter="url(#b2)"/>
<polygon points="361.8,323.6 409.6,321.8 412.4,327.2 385,352.5 377.3,346.1" fill="#eaf2f8" opacity="0.9" filter="url(#b1)"/>
<polygon points="387.1,341.2 406.8,325.8 409.6,328.6 389.9,346.8" fill="#9db6cf" opacity="0.7" filter="url(#b2)"/>
<polygon points="301.4,351 346.3,346.8 364.6,351.8 344.9,353.4 301.4,360.2" fill="#e8f0f8" opacity="0.85" filter="url(#b2)"/>
<rect x="401.9" y="361.3" width="18.9" height="4.8" fill="#fff" stroke="none" stroke-width="0"/>
<text x="269.8" y="315.6" font-size="20.5" text-anchor="start" fill="#fff" font-weight="bold">0.5 min</text>
</g>
<clipPath id="pc3"><rect x="467.1" y="295.1" width="169.6" height="80.3"/></clipPath>
<g clip-path="url(#pc3)">
<rect x="467.1" y="295.1" width="169.6" height="80.3" fill="#08090b" stroke="none" stroke-width="0"/>
<polygon points="483,356.5 486.1,344 500,321.5 504.7,322.3 525.7,331.6 535.8,323.8 546.6,318.4 607.2,316.1 611.9,318.4 610.3,323.8 583.9,347.9 574.6,342.5 560.6,348.7 542,350.2 495.4,354.1 486.1,358" fill="#4d6f8f" opacity="0.92" filter="url(#b1)"/>
<polygon points="484.5,355.7 486.8,344.8 500,323.1 520.2,334.7 506.3,351.8 487.6,356.8" fill="#2f465c" opacity="0.75" filter="url(#b2)"/>
<polygon points="528,333.2 546.6,319.9 560.6,321.5 573,342.5 560.6,347.9 542,349.5" fill="#7ea2c0" opacity="0.85" filter="url(#b2)"/>
<polygon points="562.2,319.2 607.2,317 610.3,322.3 583.9,346.8 575.4,341.2" fill="#a4c4dc" opacity="0.9" filter="url(#b1)"/>
<polygon points="587,336.3 604.1,322.3 608.8,323.8 587,344.8" fill="#4f7292" opacity="0.8" filter="url(#b2)"/>
<polyline points="486.1,356.8 495.4,353.3 542,349.6 560.6,347.9" fill="none" stroke="#b4d0e4" stroke-width="1.8" opacity="0.9" stroke-linecap="round" stroke-linejoin="round" filter="url(#b05)"/>
<polyline points="546.6,318.7 607.2,316.4" fill="none" stroke="#c0dcec" stroke-width="1.4" opacity="0.9" stroke-linecap="round" stroke-linejoin="round" filter="url(#b05)"/>
<rect x="613.1" y="360.8" width="19" height="5" fill="#fff" stroke="none" stroke-width="0"/>
<text x="471.3" y="315.6" font-size="20.5" text-anchor="start" fill="#fff" font-weight="bold">1 min</text>
</g>
<clipPath id="pc4"><rect x="62" y="414.7" width="168" height="80.1"/></clipPath>
<g clip-path="url(#pc4)">
<rect x="62" y="414.7" width="168" height="80.1" fill="#08090b" stroke="none" stroke-width="0"/>
<polygon points="83.1,476.7 87.3,466.8 107,450 111.2,452.8 125.3,454.2 144.9,440.8 153.4,440.1 204,442.2 204.7,445.1 174.4,465.4 153.4,473.9 147.7,475.3 97.2,475.3 84.5,478.1" fill="#2e3e4c" opacity="0.95" filter="url(#b1)"/>
<polygon points="125.3,454.2 144.9,440.8 153.4,440.1 173,464.7 152,473.9 111.2,472.5" fill="#485e72" opacity="0.9" filter="url(#b1)"/>
<polygon points="153.4,440.1 204,442.2 204.2,445.1 174.4,465.4" fill="#62798e" opacity="0.92" filter="url(#b1)"/>
<polygon points="159,445.8 189.9,447.2 173,461.2" fill="#8298aa" opacity="0.6" filter="url(#b2)"/>
<polyline points="85.2,477.4 92.9,474.1 147.7,474.8 153.4,473.6" fill="none" stroke="#8ea4b6" stroke-width="1.5" opacity="0.85" stroke-linecap="round" stroke-linejoin="round" filter="url(#b05)"/>
<polyline points="144.9,441 153.4,440.3 204,442.4" fill="none" stroke="#a4b8c8" stroke-width="1.3" opacity="0.85" stroke-linecap="round" stroke-linejoin="round" filter="url(#b05)"/>
<polyline points="144.9,441 125.3,454.2 108.4,471" fill="none" stroke="#6e8496" stroke-width="1.0" opacity="0.7" stroke-linecap="round" stroke-linejoin="round" filter="url(#b05)"/>
<rect x="199.5" y="484.4" width="19.4" height="4.7" fill="#fff" stroke="none" stroke-width="0"/>
<text x="70.2" y="437" font-size="20.5" text-anchor="start" fill="#fff" font-weight="bold">2 min</text>
</g>
<clipPath id="pc5"><rect x="264" y="415.1" width="167.8" height="79.6"/></clipPath>
<g clip-path="url(#pc5)">
<rect x="264" y="415.1" width="167.8" height="79.6" fill="#08090b" stroke="none" stroke-width="0"/>
<polygon points="286.6,479.5 290.1,473.9 308.4,469.6 344.9,438.7 356.2,435.9 404,441.5 405.4,445.1 381.5,458.4 353.4,476.7 346.3,478.1 325.3,475.3 304.2,475.3 288.7,481.6" fill="#2b3845" opacity="0.95" filter="url(#b1)"/>
<polygon points="356.2,436.6 404,442 395.5,447.2 370.2,445.8" fill="#8da2b2" opacity="0.9" filter="url(#b1)"/>
<polygon points="288.7,479.8 297.2,474.1 318.2,472.7 344.9,474.6 352,476.1 339.3,477.5 318.2,475.5 297.2,477.7" fill="#9cb0c0" opacity="0.9" filter="url(#b1)"/>
<polygon points="328.1,455.6 350.6,440.1 370.2,447.2 361.8,464 339.3,471" fill="#3c4e5e" opacity="0.7" filter="url(#b2)"/>
<rect x="400.4" y="484.8" width="19" height="4.3" fill="#fff" stroke="none" stroke-width="0"/>
<text x="269" y="435.9" font-size="20.5" text-anchor="start" fill="#fff" font-weight="bold">5 min</text>
</g>
<clipPath id="pc6"><rect x="468.4" y="415.2" width="167.7" height="79.5"/></clipPath>
<g clip-path="url(#pc6)">
<rect x="468.4" y="415.2" width="167.7" height="79.5" fill="#08090b" stroke="none" stroke-width="0"/>
<polygon points="560.7,429.2 602.6,415.2 621.2,432.3 566.9,471.1 523.4,494.4 503.2,476.4" fill="#2f3841" opacity="0.95" filter="url(#b1)"/>
<polyline points="602.6,415.8 621.2,432.3" fill="none" stroke="#6a7a88" stroke-width="1.2" opacity="0.8" stroke-linecap="round" stroke-linejoin="round" filter="url(#b05)"/>
<polyline points="503.2,476.4 523.4,493.8" fill="none" stroke="#5a6a78" stroke-width="1.2" opacity="0.8" stroke-linecap="round" stroke-linejoin="round" filter="url(#b05)"/>
<rect x="611.9" y="484.5" width="19.3" height="4.4" fill="#fff" stroke="none" stroke-width="0"/>
<text x="472.1" y="435.4" font-size="20.5" text-anchor="start" fill="#fff" font-weight="bold">10 min</text>
</g>
<rect x="71.5" y="1506.6" width="628.8" height="204.2" rx="13" ry="13" fill="none" stroke="#bd1a2c" stroke-width="2.9"/>
<rect x="714.3" y="1506.9" width="634.2" height="204.2" rx="13" ry="13" fill="none" stroke="#1f2a80" stroke-width="2.6"/>
<text x="381.7" y="1736.6" font-size="28.6" text-anchor="middle" fill="#b5152b" font-weight="bold">Onset period</text>
<text x="1068.8" y="1735.6" font-size="28.8" text-anchor="middle" fill="#16217a" font-weight="bold">Recovery period</text>
<defs><linearGradient id="gbf" x1="1" y1="0" x2="0" y2="1"><stop offset="0" stop-color="#191b1e"/><stop offset="0.55" stop-color="#202326"/><stop offset="1" stop-color="#2a2d30"/></linearGradient></defs>
<clipPath id="pc7"><rect x="86.1" y="1517" width="181.1" height="181"/></clipPath>
<g clip-path="url(#pc7)">
<rect x="86.1" y="1517" width="181.1" height="181" fill="url(#gbf)" stroke="none" stroke-width="0"/>
<polygon points="95.1,1605.9 100.2,1598 113.2,1589.3 127.6,1586.4 149.2,1585.7 166.5,1587.9 179.5,1592.9 189.6,1602.3 201.2,1611 237.2,1589 242.3,1590.1 248.8,1602.3 258.1,1616.7 224.2,1639.1 218.5,1639.1 189.6,1634 173.8,1629.7 160.8,1621.1 144.9,1612.4 136.3,1617.5 116.1,1628.3 112.5,1627.6 101.6,1616" fill="#858789" opacity="1" filter="url(#b1)"/>
<polygon points="95.1,1605.9 100.2,1598 113.2,1589.3 127.6,1586.7 145.6,1611.7 116.1,1628.3 112.5,1627.6 101.6,1616" fill="#7c7e81" opacity="1" filter="url(#b1)"/>
<polygon points="127.6,1586.4 149.2,1585.7 166.5,1588.2 145.6,1611.7" fill="#a9abae" opacity="1" filter="url(#b1)"/>
<polygon points="145.6,1611.7 166.5,1588.2 179.5,1592.9 189.6,1602.3 201.2,1611 181,1626.8 173.8,1629.7 160.8,1621.1" fill="#8b8d90" opacity="1" filter="url(#b1)"/>
<polygon points="181,1626.8 201.2,1611 218.5,1638.7 189.6,1634" fill="#b1b3b6" opacity="1" filter="url(#b1)"/>
<polygon points="201.2,1611 237.2,1589 242.3,1590.1 248.8,1602.3 258.1,1616.7 224.2,1639.1 218.5,1638.7" fill="#7f8184" opacity="1" filter="url(#b1)"/>
<polygon points="237.2,1589.6 242.3,1590.3 258.1,1616.7 253.1,1619.6" fill="#96989b" opacity="0.6" filter="url(#b2)"/>
<polygon points="100.2,1598.7 113.2,1590.1 127.6,1587.5 131.9,1592.9 108.8,1602.3" fill="#96989b" opacity="0.45" filter="url(#b2)"/>
<rect x="95.1" y="1527" width="83.7" height="24" fill="#8c8c8c" stroke="none" stroke-width="0"/>
<text x="135.6" y="1546.2" font-size="23.6" text-anchor="middle" fill="#fff" font-weight="bold">0 min</text>
</g>
<clipPath id="pc8"><rect x="298.8" y="1517" width="181" height="181"/></clipPath>
<g clip-path="url(#pc8)">
<rect x="298.8" y="1517" width="181" height="181" fill="url(#gbf)" stroke="none" stroke-width="0"/>
<polygon points="306.7,1605.2 311.8,1599.4 321.8,1593.7 340.6,1590.8 362.2,1591.1 379.5,1592.5 391.1,1596.5 402.6,1608.1 412.7,1614.6 450.9,1592.2 456,1594.4 469.7,1621.1 438.7,1640.5 431.5,1642 408.4,1636.9 386.8,1634 373.8,1623.9 355,1614.6 342,1617.5 326.2,1622.5 314.6,1615.3 308.1,1609.5" fill="#4f5255" opacity="1" filter="url(#b1)"/>
<path d="M306.7 1605.2C307.2 1603.9 309.7 1601 311.8 1599.4C313.8 1597.9 318 1594.8 321.8 1593.7C325.7 1592.5 335.2 1591.1 340.6 1590.8C346 1590.4 357 1590.8 362.2 1591.1C367.4 1591.3 375.7 1591.8 379.5 1592.5C383.4 1593.2 391.9 1594.3 391.1 1596.5C390.3 1598.8 378.6 1607.1 373.8 1609.5C369 1611.9 359.3 1613.5 355 1614.6C350.8 1615.6 345.9 1616.4 342 1617.5C338.2 1618.5 329.8 1622.8 326.2 1622.5C322.5 1622.2 317 1617 314.6 1615.3C312.2 1613.6 309.2 1610.9 308.1 1609.5C307.1 1608.2 306.2 1606.5 306.7 1605.2Z" fill="#4b4e51" opacity="1" filter="url(#b1)"/>
<polygon points="355,1614.6 373.8,1609.5 391.1,1596.5 402.6,1608.1 412.7,1614.6 398.3,1625.4 386.8,1634 373.8,1623.9" fill="#565a5d" opacity="1" filter="url(#b1)"/>
<polygon points="412.7,1614.6 450.9,1592.2 456,1594.4 469.7,1621.1 438.7,1640.5 431.5,1642" fill="#4a4d50" opacity="1" filter="url(#b1)"/>
<polygon points="386.8,1634 398.3,1624.7 412.7,1614.6 431.5,1642 408.4,1636.9" fill="#63676a" opacity="1" filter="url(#b1)"/>
<path d="M385.3 1632.6C391.1 1633.7 390.1 1633.8 402.6 1635.8C415.1 1637.8 411.3 1637 422.8 1638.7C434.4 1640.3 432.4 1640 437.2 1640.7" fill="none" stroke="#c4c4c4" stroke-width="2.2" opacity="0.9" stroke-linecap="round" filter="url(#b05)" stroke-dasharray="3 1.2"/>
<path d="M355 1595.1C358.4 1595.9 358.4 1597.3 365.1 1597.4C371.8 1597.5 371.8 1596.1 375.2 1595.4" fill="none" stroke="#b0b0b0" stroke-width="1.5" opacity="0.9" stroke-linecap="round" filter="url(#b05)"/>
<path d="M311 1609.5C309.8 1608.3 307.2 1609.2 307.4 1605.9C307.7 1602.6 306.9 1603.7 311.8 1599.7C316.6 1595.7 312.2 1596.8 321.8 1593.9C331.5 1591.1 334.3 1592 340.6 1591.1" fill="none" stroke="#8a8d90" stroke-width="1.4" opacity="0.8" stroke-linecap="round" filter="url(#b05)"/>
<rect x="309.1" y="1527" width="83.7" height="24" fill="#8c8c8c" stroke="none" stroke-width="0"/>
<text x="350.6" y="1546.2" font-size="23.6" text-anchor="middle" fill="#fff" font-weight="bold">5 min</text>
</g>
<clipPath id="pc9"><rect x="511.1" y="1517" width="181.9" height="181"/></clipPath>
<g clip-path="url(#pc9)">
<rect x="511.1" y="1517" width="181.9" height="181" fill="url(#gbf)" stroke="none" stroke-width="0"/>
<polygon points="520.1,1596.5 526.6,1588.6 541.1,1582.8 562.7,1582.1 584.3,1583.8 603.1,1587.9 614.6,1596.5 627.6,1609.5 660.8,1589 666.5,1590.1 683.1,1613.1 652.1,1633.3 643.5,1632.6 623.3,1629.7 600.2,1627.6 585.8,1617.5 562.7,1604.5 552.6,1609.5 538.2,1615.3 526.6,1606.6" fill="#4f5255" opacity="1" filter="url(#b1)"/>
<path d="M520.1 1596.5C520.1 1594.1 523.8 1590.4 526.6 1588.6C529.4 1586.8 536.3 1583.7 541.1 1582.8C545.9 1582 556.9 1582 562.7 1582.1C568.5 1582.3 578.9 1583.1 584.3 1583.8C589.7 1584.6 602.9 1586 603.1 1587.9C603.3 1589.8 591.2 1595.8 585.8 1598C580.4 1600.2 567.1 1602.9 562.7 1604.5C558.3 1606 555.9 1608.1 552.6 1609.5C549.3 1611 541.6 1615.7 538.2 1615.3C534.7 1614.9 529 1609.1 526.6 1606.6C524.2 1604.1 520.1 1598.9 520.1 1596.5Z" fill="#4b4e51" opacity="1" filter="url(#b1)"/>
<polygon points="562.7,1604.5 585.8,1598 603.1,1587.9 614.6,1596.5 627.6,1609.5 604.5,1623.9 600.2,1627.6 585.8,1617.5" fill="#525558" opacity="1" filter="url(#b1)"/>
<polygon points="627.6,1609.5 660.8,1589 666.5,1590.1 683.1,1613.1 652.1,1633.3 643.5,1632.6" fill="#4b4e51" opacity="1" filter="url(#b1)"/>
<polygon points="600.2,1627.6 604.5,1623.9 627.6,1609.5 643.5,1632.6 623.3,1629.7" fill="#64676a" opacity="1" filter="url(#b1)"/>
<path d="M598.8 1627.6C606 1628.1 606 1627.9 620.4 1629.1C634.8 1630.3 634.8 1630.5 642 1631.2" fill="none" stroke="#c4c4c4" stroke-width="2.2" opacity="0.9" stroke-linecap="round" filter="url(#b05)" stroke-dasharray="3 1.2"/>
<path d="M568.5 1586.4C572.3 1587.3 573.3 1588.8 580 1589C586.7 1589.3 585.8 1587.8 588.7 1587.2" fill="none" stroke="#b0b0b0" stroke-width="1.5" opacity="0.9" stroke-linecap="round" filter="url(#b05)"/>
<path d="M523.8 1602.3C522.5 1600.4 519.2 1601 520.1 1596.5C521.1 1592.1 519.7 1593.4 526.6 1588.9C533.6 1584.4 529 1585.3 541.1 1583.1C553.1 1581 555.5 1582.6 562.7 1582.4" fill="none" stroke="#8a8d90" stroke-width="1.4" opacity="0.8" stroke-linecap="round" filter="url(#b05)"/>
<rect x="524.9" y="1527" width="83.2" height="24" fill="#8c8c8c" stroke="none" stroke-width="0"/>
<text x="566.2" y="1546.2" font-size="23.6" text-anchor="middle" fill="#fff" font-weight="bold">10 min</text>
</g>
<clipPath id="pc10"><rect x="724.1" y="1517" width="181.4" height="181"/></clipPath>
<g clip-path="url(#pc10)">
<rect x="724.1" y="1517" width="181.4" height="181" fill="url(#gbf)" stroke="none" stroke-width="0"/>
<path d="M733.1 1598C733.5 1596.6 736.7 1593.6 739.6 1592.2C742.6 1590.9 751.7 1588.4 755.5 1587.9C759.3 1587.4 763.9 1588.4 768.5 1588.6C773.1 1588.8 784.5 1588.8 790.1 1589.3C795.7 1589.8 806.5 1591.3 810.3 1592.2C814.2 1593.2 823.6 1596.1 819 1596.5C814.4 1597 782.8 1594.6 775.7 1595.4C768.6 1596.2 768.9 1601 765.6 1602.3C762.3 1603.6 755 1605.2 751.2 1605.2C747.3 1605.2 739.2 1603.3 736.8 1602.3C734.3 1601.4 732.8 1599.3 733.1 1598Z" fill="#4e5154" opacity="1" filter="url(#b1)"/>
<path d="M772.8 1596.5C776.1 1593.7 803.4 1591.8 810.3 1592.2C817.2 1592.6 821.3 1596.5 824.7 1599.4C828.2 1602.3 834 1611.2 836.3 1613.9C838.6 1616.5 844.4 1617.5 842 1619.6C839.7 1621.7 823.6 1628 819 1629.7C814.4 1631.4 810.1 1632.8 807.4 1632.6C804.7 1632.4 801.7 1630.8 798.8 1628.3C795.9 1625.8 789.3 1618.1 785.8 1613.9C782.3 1609.6 769.5 1599.4 772.8 1596.5Z" fill="#373a3d" opacity="1" filter="url(#b1)"/>
<polygon points="842,1618.9 873.8,1602.3 892.5,1620.3 862.2,1639.8 852.1,1638.4 819,1629.7" fill="#54575a" opacity="1" filter="url(#b1)"/>
<polygon points="819,1629.7 842,1619.6 852.1,1638.1 833.4,1635.5" fill="#6b6e71" opacity="0.9" filter="url(#b2)"/>
<path d="M810.3 1633.3C817 1634 816.6 1634 830.5 1635.5C844.4 1637 844.9 1637 852.1 1637.8" fill="none" stroke="#c0c0c0" stroke-width="2" opacity="0.85" stroke-linecap="round" filter="url(#b05)" stroke-dasharray="3 1.2"/>
<path d="M772.1 1600.1C773.1 1602.8 774 1605.4 775 1608.1" fill="none" stroke="#c8c8c8" stroke-width="1.2" opacity="0.9" stroke-linecap="round" filter="url(#b05)"/>
<path d="M734.6 1600.1C736.3 1597.6 732.7 1596.5 739.6 1592.5C746.6 1588.5 745.9 1589.4 755.5 1588.2C765.1 1587 756.9 1588.4 768.5 1588.9C780 1589.4 782.9 1589.4 790.1 1589.6" fill="none" stroke="#8a8d90" stroke-width="1.5" opacity="0.8" stroke-linecap="round" filter="url(#b05)"/>
<rect x="734.2" y="1527" width="83.6" height="24" fill="#8c8c8c" stroke="none" stroke-width="0"/>
<text x="775" y="1546.2" font-size="23.6" text-anchor="middle" fill="#fff" font-weight="bold">20 min</text>
</g>
<clipPath id="pc11"><rect x="936.5" y="1517" width="181.4" height="181"/></clipPath>
<g clip-path="url(#pc11)">
<rect x="936.5" y="1517" width="181.4" height="181" fill="url(#gbf)" stroke="none" stroke-width="0"/>
<path d="M977.6 1593.7C981.2 1589.9 1004.8 1587.2 1013.7 1588.6C1022.6 1590.1 1025 1597.1 1031 1602.3C1037 1607.5 1044.4 1614.8 1049.7 1619.6C1055 1624.4 1058.6 1627.8 1062.7 1631.2C1066.8 1634.5 1076.6 1637.7 1074.2 1639.8C1071.8 1642 1056.9 1644.6 1048.3 1644.1C1039.6 1643.7 1029 1639.6 1022.3 1636.9C1015.6 1634.3 1012.9 1632.6 1007.9 1628.3C1002.8 1623.9 997.1 1616.7 992 1611C987 1605.2 974 1597.4 977.6 1593.7Z" fill="#33363a" opacity="1" filter="url(#b1)"/>
<path d="M947.3 1589.3C948.5 1587.2 954.8 1581.8 958.8 1579.2C962.9 1576.7 966.5 1574.5 971.8 1574.2C977.1 1573.8 985.1 1575.7 990.6 1577.1C996.1 1578.4 1001.2 1580.2 1005 1582.1C1008.8 1584 1015.3 1586.4 1013.7 1588.6C1012 1590.8 1000.9 1594.3 994.9 1595.1C988.9 1595.9 982.9 1593.8 977.6 1593.7C972.3 1593.5 967.5 1594.6 963.2 1594.4C958.8 1594.1 954.3 1593.1 951.6 1592.2C949 1591.4 946.1 1591.5 947.3 1589.3Z" fill="#505356" opacity="1" filter="url(#b1)"/>
<path d="M1010.8 1633.3C1016.5 1635 1015.1 1634.5 1028.1 1638.4C1041.1 1642.2 1036.7 1642.5 1049.7 1644.9C1062.7 1647.3 1054 1646.5 1067 1645.6C1080 1644.6 1076.6 1644.6 1088.7 1642C1100.7 1639.3 1098.3 1639.1 1103.1 1637.7" fill="none" stroke="#bcbcbc" stroke-width="2.6" opacity="0.9" stroke-linecap="round" filter="url(#b05)"/>
<path d="M984.1 1600.1C985.8 1604.7 987.5 1609.3 989.1 1613.9" fill="none" stroke="#c8c8c8" stroke-width="1.2" opacity="0.9" stroke-linecap="round" filter="url(#b05)"/>
<path d="M958.8 1579.5C963.2 1577.8 963.2 1575.6 971.8 1574.5C980.5 1573.3 980.5 1575.5 984.8 1576.1" fill="none" stroke="#9a9d9f" stroke-width="1.6" opacity="0.8" stroke-linecap="round" filter="url(#b05)" stroke-dasharray="2.5 1.5"/>
<path d="M1108.9 1632.9C1111.3 1633.8 1113.7 1634.6 1116.1 1635.5" fill="none" stroke="#808386" stroke-width="1.5" opacity="0.7" stroke-linecap="round" filter="url(#b05)"/>
<rect x="948" y="1527" width="83.7" height="24" fill="#8c8c8c" stroke="none" stroke-width="0"/>
<text x="984.4" y="1546.2" font-size="23.6" text-anchor="middle" fill="#fff" font-weight="bold">1 h</text>
</g>
<clipPath id="pc12"><rect x="1148.8" y="1517" width="182.7" height="180.8"/></clipPath>
<g clip-path="url(#pc12)">
<rect x="1148.8" y="1517" width="182.7" height="180.8" fill="url(#gbf)" stroke="none" stroke-width="0"/>
<path d="M1155.9 1575.1C1155 1573 1157.5 1569.6 1165.2 1569.6C1173 1569.6 1188.5 1568.3 1202.5 1575.1C1216.5 1582 1235.1 1600.3 1249.1 1610.6C1263.1 1620.8 1275.5 1628.9 1286.4 1636.7C1297.3 1644.4 1312.8 1651.3 1314.4 1657.2C1315.9 1663.1 1303.5 1671.8 1295.7 1672.1C1287.9 1672.4 1280.5 1666.2 1267.8 1659C1255 1651.9 1231.7 1638.8 1219.3 1629.2C1206.9 1619.6 1201.3 1609 1193.2 1601.2C1185.1 1593.5 1177 1587 1170.8 1582.6C1164.6 1578.3 1156.8 1577.3 1155.9 1575.1Z" fill="#2e3134" opacity="1" filter="url(#b2)"/>
<path d="M1249.1 1642.3C1252.2 1639 1275.8 1636 1286.4 1638.5C1297 1641 1310.9 1651.7 1312.5 1657.2C1314 1662.6 1303.2 1671 1295.7 1671.1C1288.3 1671.3 1275.5 1662.9 1267.8 1658.1C1260 1653.3 1246 1645.5 1249.1 1642.3Z" fill="#46494c" opacity="0.9" filter="url(#b2)"/>
<path d="M1219.3 1631.1C1224.3 1633.6 1226.7 1635.7 1234.2 1638.5C1241.7 1641.3 1239.2 1639.1 1241.7 1639.5" fill="none" stroke="#8a8a8a" stroke-width="1.2" opacity="0.8" stroke-linecap="round" filter="url(#b05)"/>
<path d="M1256.6 1634.8C1260.3 1636.3 1262.2 1638.5 1267.8 1639.5C1273.3 1640.4 1271.5 1638.2 1273.3 1637.6" fill="none" stroke="#8a8a8a" stroke-width="1.2" opacity="0.8" stroke-linecap="round" filter="url(#b05)"/>
<path d="M1194.1 1599.4C1195.4 1602.5 1196.6 1605.6 1197.9 1608.7" fill="none" stroke="#707376" stroke-width="1.2" opacity="0.8" stroke-linecap="round" filter="url(#b05)"/>
<rect x="1156.9" y="1527" width="83.3" height="24" fill="#8c8c8c" stroke="none" stroke-width="0"/>
<text x="1197.9" y="1546.2" font-size="23.6" text-anchor="middle" fill="#fff" font-weight="bold">4 h</text>
</g>
</svg>
</body></html>
